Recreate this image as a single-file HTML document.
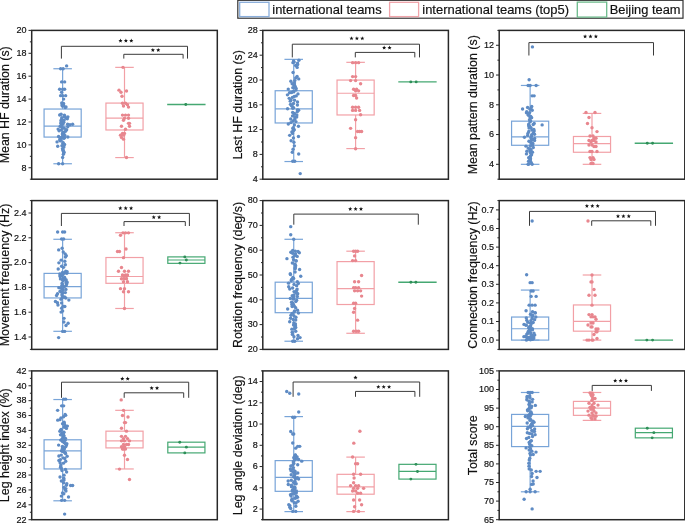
<!DOCTYPE html>
<html><head><meta charset="utf-8"><style>
html,body{margin:0;padding:0;background:#fff;width:685px;height:523px;overflow:hidden}
svg{display:block;will-change:transform}
text{font-family:"Liberation Sans",sans-serif;fill:#111;stroke:#111;stroke-width:0.18px}
.tk{font-size:9px;text-anchor:end}
.ttl{font-size:12.4px;text-anchor:middle}
.st{font-size:10px;text-anchor:middle;font-weight:bold}
.lg{font-size:12.85px}
</style></head><body>
<svg width="685" height="523" viewBox="0 0 685 523">
<line x1="29.90" y1="179.20" x2="31.70" y2="179.20" stroke="#282828" stroke-width="1.0"/>
<line x1="28.50" y1="167.75" x2="31.70" y2="167.75" stroke="#282828" stroke-width="1.0"/>
<line x1="29.90" y1="156.31" x2="31.70" y2="156.31" stroke="#282828" stroke-width="1.0"/>
<line x1="28.50" y1="144.86" x2="31.70" y2="144.86" stroke="#282828" stroke-width="1.0"/>
<line x1="29.90" y1="133.42" x2="31.70" y2="133.42" stroke="#282828" stroke-width="1.0"/>
<line x1="28.50" y1="121.97" x2="31.70" y2="121.97" stroke="#282828" stroke-width="1.0"/>
<line x1="29.90" y1="110.52" x2="31.70" y2="110.52" stroke="#282828" stroke-width="1.0"/>
<line x1="28.50" y1="99.08" x2="31.70" y2="99.08" stroke="#282828" stroke-width="1.0"/>
<line x1="29.90" y1="87.63" x2="31.70" y2="87.63" stroke="#282828" stroke-width="1.0"/>
<line x1="28.50" y1="76.18" x2="31.70" y2="76.18" stroke="#282828" stroke-width="1.0"/>
<line x1="29.90" y1="64.74" x2="31.70" y2="64.74" stroke="#282828" stroke-width="1.0"/>
<line x1="28.50" y1="53.29" x2="31.70" y2="53.29" stroke="#282828" stroke-width="1.0"/>
<line x1="29.90" y1="41.85" x2="31.70" y2="41.85" stroke="#282828" stroke-width="1.0"/>
<line x1="28.50" y1="30.40" x2="31.70" y2="30.40" stroke="#282828" stroke-width="1.0"/>
<text x="26.60" y="170.55" class="tk">8</text>
<text x="26.60" y="147.66" class="tk">10</text>
<text x="26.60" y="124.77" class="tk">12</text>
<text x="26.60" y="101.88" class="tk">14</text>
<text x="26.60" y="78.98" class="tk">16</text>
<text x="26.60" y="56.09" class="tk">18</text>
<text x="26.60" y="33.20" class="tk">20</text>
<text class="ttl" transform="translate(9.30,104.80) rotate(-90)" x="0" y="0">Mean HF duration (s)</text>
<line x1="62.63" y1="68.74" x2="62.63" y2="109.04" stroke="#78a4d8" stroke-width="1.2"/>
<line x1="62.63" y1="137.08" x2="62.63" y2="163.75" stroke="#78a4d8" stroke-width="1.2"/>
<line x1="53.35" y1="68.74" x2="71.91" y2="68.74" stroke="#78a4d8" stroke-width="1.2"/>
<line x1="53.35" y1="163.75" x2="71.91" y2="163.75" stroke="#78a4d8" stroke-width="1.2"/>
<rect x="44.07" y="109.04" width="37.12" height="28.04" fill="none" stroke="#78a4d8" stroke-width="1.2"/>
<line x1="44.07" y1="126.09" x2="81.19" y2="126.09" stroke="#78a4d8" stroke-width="1.2"/>
<circle cx="65.13" cy="107.45" r="1.7" fill="#5e8bc4"/>
<circle cx="66.00" cy="106.97" r="1.7" fill="#5e8bc4"/>
<circle cx="62.34" cy="106.03" r="1.7" fill="#5e8bc4"/>
<circle cx="63.60" cy="105.40" r="1.7" fill="#5e8bc4"/>
<circle cx="62.03" cy="105.06" r="1.7" fill="#5e8bc4"/>
<circle cx="63.33" cy="104.38" r="1.7" fill="#5e8bc4"/>
<circle cx="63.55" cy="103.53" r="1.7" fill="#5e8bc4"/>
<circle cx="61.75" cy="103.01" r="1.7" fill="#5e8bc4"/>
<circle cx="66.16" cy="118.18" r="1.7" fill="#5e8bc4"/>
<circle cx="61.83" cy="117.74" r="1.7" fill="#5e8bc4"/>
<circle cx="67.86" cy="116.83" r="1.7" fill="#5e8bc4"/>
<circle cx="64.42" cy="116.65" r="1.7" fill="#5e8bc4"/>
<circle cx="64.58" cy="116.16" r="1.7" fill="#5e8bc4"/>
<circle cx="64.44" cy="115.21" r="1.7" fill="#5e8bc4"/>
<circle cx="59.70" cy="115.00" r="1.7" fill="#5e8bc4"/>
<circle cx="61.11" cy="114.32" r="1.7" fill="#5e8bc4"/>
<circle cx="63.77" cy="122.18" r="1.7" fill="#5e8bc4"/>
<circle cx="63.28" cy="121.74" r="1.7" fill="#5e8bc4"/>
<circle cx="60.91" cy="120.75" r="1.7" fill="#5e8bc4"/>
<circle cx="63.93" cy="120.15" r="1.7" fill="#5e8bc4"/>
<circle cx="61.51" cy="119.57" r="1.7" fill="#5e8bc4"/>
<circle cx="67.33" cy="118.74" r="1.7" fill="#5e8bc4"/>
<circle cx="60.10" cy="126.41" r="1.7" fill="#5e8bc4"/>
<circle cx="61.50" cy="125.47" r="1.7" fill="#5e8bc4"/>
<circle cx="61.21" cy="124.99" r="1.7" fill="#5e8bc4"/>
<circle cx="70.01" cy="124.76" r="1.7" fill="#5e8bc4"/>
<circle cx="63.00" cy="124.02" r="1.7" fill="#5e8bc4"/>
<circle cx="61.44" cy="123.41" r="1.7" fill="#5e8bc4"/>
<circle cx="60.76" cy="123.09" r="1.7" fill="#5e8bc4"/>
<circle cx="59.08" cy="130.80" r="1.7" fill="#5e8bc4"/>
<circle cx="61.37" cy="130.05" r="1.7" fill="#5e8bc4"/>
<circle cx="66.62" cy="129.64" r="1.7" fill="#5e8bc4"/>
<circle cx="58.14" cy="129.08" r="1.7" fill="#5e8bc4"/>
<circle cx="64.29" cy="128.30" r="1.7" fill="#5e8bc4"/>
<circle cx="62.46" cy="127.99" r="1.7" fill="#5e8bc4"/>
<circle cx="62.14" cy="127.29" r="1.7" fill="#5e8bc4"/>
<circle cx="67.76" cy="126.75" r="1.7" fill="#5e8bc4"/>
<circle cx="62.72" cy="134.97" r="1.7" fill="#5e8bc4"/>
<circle cx="62.66" cy="134.34" r="1.7" fill="#5e8bc4"/>
<circle cx="62.45" cy="133.72" r="1.7" fill="#5e8bc4"/>
<circle cx="63.61" cy="133.32" r="1.7" fill="#5e8bc4"/>
<circle cx="63.54" cy="132.40" r="1.7" fill="#5e8bc4"/>
<circle cx="62.97" cy="132.20" r="1.7" fill="#5e8bc4"/>
<circle cx="65.52" cy="131.20" r="1.7" fill="#5e8bc4"/>
<circle cx="59.82" cy="139.10" r="1.7" fill="#5e8bc4"/>
<circle cx="63.96" cy="138.20" r="1.7" fill="#5e8bc4"/>
<circle cx="64.31" cy="137.73" r="1.7" fill="#5e8bc4"/>
<circle cx="61.35" cy="137.43" r="1.7" fill="#5e8bc4"/>
<circle cx="67.82" cy="136.96" r="1.7" fill="#5e8bc4"/>
<circle cx="58.58" cy="136.56" r="1.7" fill="#5e8bc4"/>
<circle cx="63.15" cy="136.05" r="1.7" fill="#5e8bc4"/>
<circle cx="64.82" cy="135.39" r="1.7" fill="#5e8bc4"/>
<circle cx="62.91" cy="143.27" r="1.7" fill="#5e8bc4"/>
<circle cx="63.17" cy="142.63" r="1.7" fill="#5e8bc4"/>
<circle cx="57.05" cy="141.91" r="1.7" fill="#5e8bc4"/>
<circle cx="60.33" cy="140.90" r="1.7" fill="#5e8bc4"/>
<circle cx="60.05" cy="140.27" r="1.7" fill="#5e8bc4"/>
<circle cx="60.30" cy="139.86" r="1.7" fill="#5e8bc4"/>
<circle cx="63.92" cy="147.00" r="1.7" fill="#5e8bc4"/>
<circle cx="57.73" cy="146.28" r="1.7" fill="#5e8bc4"/>
<circle cx="61.95" cy="145.81" r="1.7" fill="#5e8bc4"/>
<circle cx="63.65" cy="144.81" r="1.7" fill="#5e8bc4"/>
<circle cx="64.56" cy="144.47" r="1.7" fill="#5e8bc4"/>
<circle cx="63.66" cy="151.57" r="1.7" fill="#5e8bc4"/>
<circle cx="62.99" cy="150.39" r="1.7" fill="#5e8bc4"/>
<circle cx="62.95" cy="149.57" r="1.7" fill="#5e8bc4"/>
<circle cx="62.55" cy="148.62" r="1.7" fill="#5e8bc4"/>
<circle cx="63.38" cy="154.31" r="1.7" fill="#5e8bc4"/>
<circle cx="64.11" cy="152.61" r="1.7" fill="#5e8bc4"/>
<circle cx="66.63" cy="65.88" r="1.7" fill="#5e8bc4"/>
<circle cx="60.63" cy="68.74" r="1.7" fill="#5e8bc4"/>
<circle cx="63.13" cy="68.74" r="1.7" fill="#5e8bc4"/>
<circle cx="61.63" cy="81.91" r="1.7" fill="#5e8bc4"/>
<circle cx="64.63" cy="81.91" r="1.7" fill="#5e8bc4"/>
<circle cx="59.63" cy="89.23" r="1.7" fill="#5e8bc4"/>
<circle cx="62.63" cy="89.23" r="1.7" fill="#5e8bc4"/>
<circle cx="64.63" cy="89.23" r="1.7" fill="#5e8bc4"/>
<circle cx="61.63" cy="92.21" r="1.7" fill="#5e8bc4"/>
<circle cx="60.63" cy="95.64" r="1.7" fill="#5e8bc4"/>
<circle cx="62.63" cy="95.64" r="1.7" fill="#5e8bc4"/>
<circle cx="65.63" cy="95.64" r="1.7" fill="#5e8bc4"/>
<circle cx="63.63" cy="99.08" r="1.7" fill="#5e8bc4"/>
<circle cx="67.63" cy="124.26" r="1.7" fill="#5e8bc4"/>
<circle cx="72.63" cy="124.26" r="1.7" fill="#5e8bc4"/>
<circle cx="62.63" cy="157.45" r="1.7" fill="#5e8bc4"/>
<circle cx="58.63" cy="163.75" r="1.7" fill="#5e8bc4"/>
<circle cx="62.63" cy="163.75" r="1.7" fill="#5e8bc4"/>
<line x1="124.50" y1="67.37" x2="124.50" y2="103.08" stroke="#f2a0a6" stroke-width="1.2"/>
<line x1="124.50" y1="129.98" x2="124.50" y2="157.57" stroke="#f2a0a6" stroke-width="1.2"/>
<line x1="115.22" y1="67.37" x2="133.78" y2="67.37" stroke="#f2a0a6" stroke-width="1.2"/>
<line x1="115.22" y1="157.57" x2="133.78" y2="157.57" stroke="#f2a0a6" stroke-width="1.2"/>
<rect x="105.94" y="103.08" width="37.12" height="26.90" fill="none" stroke="#f2a0a6" stroke-width="1.2"/>
<line x1="105.94" y1="118.08" x2="143.06" y2="118.08" stroke="#f2a0a6" stroke-width="1.2"/>
<circle cx="123.00" cy="67.37" r="1.7" fill="#e8868e"/>
<circle cx="119.00" cy="90.15" r="1.7" fill="#e8868e"/>
<circle cx="121.00" cy="92.21" r="1.7" fill="#e8868e"/>
<circle cx="126.50" cy="91.06" r="1.7" fill="#e8868e"/>
<circle cx="122.00" cy="96.22" r="1.7" fill="#e8868e"/>
<circle cx="122.50" cy="103.20" r="1.7" fill="#e8868e"/>
<circle cx="125.50" cy="103.20" r="1.7" fill="#e8868e"/>
<circle cx="127.50" cy="104.80" r="1.7" fill="#e8868e"/>
<circle cx="123.50" cy="105.94" r="1.7" fill="#e8868e"/>
<circle cx="128.50" cy="107.09" r="1.7" fill="#e8868e"/>
<circle cx="122.50" cy="115.10" r="1.7" fill="#e8868e"/>
<circle cx="125.50" cy="115.10" r="1.7" fill="#e8868e"/>
<circle cx="128.50" cy="115.10" r="1.7" fill="#e8868e"/>
<circle cx="124.50" cy="118.31" r="1.7" fill="#e8868e"/>
<circle cx="128.50" cy="118.31" r="1.7" fill="#e8868e"/>
<circle cx="123.50" cy="120.25" r="1.7" fill="#e8868e"/>
<circle cx="128.50" cy="123.34" r="1.7" fill="#e8868e"/>
<circle cx="129.50" cy="123.34" r="1.7" fill="#e8868e"/>
<circle cx="121.50" cy="126.32" r="1.7" fill="#e8868e"/>
<circle cx="129.50" cy="126.32" r="1.7" fill="#e8868e"/>
<circle cx="125.50" cy="129.29" r="1.7" fill="#e8868e"/>
<circle cx="122.50" cy="133.42" r="1.7" fill="#e8868e"/>
<circle cx="124.50" cy="133.42" r="1.7" fill="#e8868e"/>
<circle cx="120.50" cy="135.13" r="1.7" fill="#e8868e"/>
<circle cx="123.50" cy="135.13" r="1.7" fill="#e8868e"/>
<circle cx="121.50" cy="137.42" r="1.7" fill="#e8868e"/>
<circle cx="123.50" cy="139.14" r="1.7" fill="#e8868e"/>
<circle cx="126.50" cy="157.45" r="1.7" fill="#e8868e"/>
<line x1="167.19" y1="104.57" x2="205.55" y2="104.57" stroke="#45a872" stroke-width="1.4"/>
<circle cx="185.77" cy="104.57" r="1.45" fill="#2e8f58"/>
<polyline points="61.40,58.60 61.40,46.30 187.50,46.30 187.50,58.60" fill="none" stroke="#3a3a3a" stroke-width="1"/>
<polygon points="120.50,38.60 121.06,40.03 122.59,40.12 121.40,41.09 121.79,42.58 120.50,41.75 119.21,42.58 119.60,41.09 118.41,40.12 119.94,40.03" fill="#111"/>
<polygon points="125.90,38.60 126.46,40.03 127.99,40.12 126.80,41.09 127.19,42.58 125.90,41.75 124.61,42.58 125.00,41.09 123.81,40.12 125.34,40.03" fill="#111"/>
<polygon points="131.30,38.60 131.86,40.03 133.39,40.12 132.20,41.09 132.59,42.58 131.30,41.75 130.01,42.58 130.40,41.09 129.21,40.12 130.74,40.03" fill="#111"/>
<polyline points="123.80,58.60 123.80,54.30 183.10,54.30 183.10,58.60" fill="none" stroke="#3a3a3a" stroke-width="1"/>
<polygon points="152.85,47.90 153.41,49.33 154.94,49.42 153.75,50.39 154.14,51.88 152.85,51.05 151.56,51.88 151.95,50.39 150.76,49.42 152.29,49.33" fill="#111"/>
<polygon points="158.25,47.90 158.81,49.33 160.34,49.42 159.15,50.39 159.54,51.88 158.25,51.05 156.96,51.88 157.35,50.39 156.16,49.42 157.69,49.33" fill="#111"/>
<rect x="31.70" y="30.40" width="185.60" height="148.80" fill="none" stroke="#282828" stroke-width="1.5"/>
<line x1="259.60" y1="179.20" x2="262.80" y2="179.20" stroke="#282828" stroke-width="1.0"/>
<line x1="261.00" y1="166.80" x2="262.80" y2="166.80" stroke="#282828" stroke-width="1.0"/>
<line x1="259.60" y1="154.40" x2="262.80" y2="154.40" stroke="#282828" stroke-width="1.0"/>
<line x1="261.00" y1="142.00" x2="262.80" y2="142.00" stroke="#282828" stroke-width="1.0"/>
<line x1="259.60" y1="129.60" x2="262.80" y2="129.60" stroke="#282828" stroke-width="1.0"/>
<line x1="261.00" y1="117.20" x2="262.80" y2="117.20" stroke="#282828" stroke-width="1.0"/>
<line x1="259.60" y1="104.80" x2="262.80" y2="104.80" stroke="#282828" stroke-width="1.0"/>
<line x1="261.00" y1="92.40" x2="262.80" y2="92.40" stroke="#282828" stroke-width="1.0"/>
<line x1="259.60" y1="80.00" x2="262.80" y2="80.00" stroke="#282828" stroke-width="1.0"/>
<line x1="261.00" y1="67.60" x2="262.80" y2="67.60" stroke="#282828" stroke-width="1.0"/>
<line x1="259.60" y1="55.20" x2="262.80" y2="55.20" stroke="#282828" stroke-width="1.0"/>
<line x1="261.00" y1="42.80" x2="262.80" y2="42.80" stroke="#282828" stroke-width="1.0"/>
<line x1="259.60" y1="30.40" x2="262.80" y2="30.40" stroke="#282828" stroke-width="1.0"/>
<text x="257.70" y="182.00" class="tk">4</text>
<text x="257.70" y="157.20" class="tk">8</text>
<text x="257.70" y="132.40" class="tk">12</text>
<text x="257.70" y="107.60" class="tk">16</text>
<text x="257.70" y="82.80" class="tk">20</text>
<text x="257.70" y="58.00" class="tk">24</text>
<text x="257.70" y="33.20" class="tk">28</text>
<text class="ttl" transform="translate(242.20,104.80) rotate(-90)" x="0" y="0">Last HF duration (s)</text>
<line x1="293.73" y1="59.35" x2="293.73" y2="90.73" stroke="#78a4d8" stroke-width="1.2"/>
<line x1="293.73" y1="122.97" x2="293.73" y2="161.53" stroke="#78a4d8" stroke-width="1.2"/>
<line x1="284.45" y1="59.35" x2="303.01" y2="59.35" stroke="#78a4d8" stroke-width="1.2"/>
<line x1="284.45" y1="161.53" x2="303.01" y2="161.53" stroke="#78a4d8" stroke-width="1.2"/>
<rect x="275.17" y="90.73" width="37.12" height="32.24" fill="none" stroke="#78a4d8" stroke-width="1.2"/>
<line x1="275.17" y1="108.89" x2="312.29" y2="108.89" stroke="#78a4d8" stroke-width="1.2"/>
<circle cx="295.63" cy="65.43" r="1.7" fill="#5e8bc4"/>
<circle cx="297.66" cy="64.53" r="1.7" fill="#5e8bc4"/>
<circle cx="297.56" cy="63.09" r="1.7" fill="#5e8bc4"/>
<circle cx="292.94" cy="62.67" r="1.7" fill="#5e8bc4"/>
<circle cx="294.15" cy="62.11" r="1.7" fill="#5e8bc4"/>
<circle cx="293.58" cy="61.01" r="1.7" fill="#5e8bc4"/>
<circle cx="298.90" cy="60.28" r="1.7" fill="#5e8bc4"/>
<circle cx="297.07" cy="76.51" r="1.7" fill="#5e8bc4"/>
<circle cx="293.07" cy="72.44" r="1.7" fill="#5e8bc4"/>
<circle cx="297.17" cy="67.39" r="1.7" fill="#5e8bc4"/>
<circle cx="294.57" cy="85.18" r="1.7" fill="#5e8bc4"/>
<circle cx="293.36" cy="84.25" r="1.7" fill="#5e8bc4"/>
<circle cx="292.13" cy="83.72" r="1.7" fill="#5e8bc4"/>
<circle cx="294.47" cy="82.89" r="1.7" fill="#5e8bc4"/>
<circle cx="290.86" cy="81.20" r="1.7" fill="#5e8bc4"/>
<circle cx="294.83" cy="80.62" r="1.7" fill="#5e8bc4"/>
<circle cx="298.72" cy="78.89" r="1.7" fill="#5e8bc4"/>
<circle cx="295.69" cy="77.98" r="1.7" fill="#5e8bc4"/>
<circle cx="289.53" cy="92.80" r="1.7" fill="#5e8bc4"/>
<circle cx="291.61" cy="92.46" r="1.7" fill="#5e8bc4"/>
<circle cx="293.76" cy="91.88" r="1.7" fill="#5e8bc4"/>
<circle cx="293.66" cy="91.17" r="1.7" fill="#5e8bc4"/>
<circle cx="296.01" cy="89.98" r="1.7" fill="#5e8bc4"/>
<circle cx="288.25" cy="89.08" r="1.7" fill="#5e8bc4"/>
<circle cx="296.02" cy="88.35" r="1.7" fill="#5e8bc4"/>
<circle cx="292.82" cy="87.66" r="1.7" fill="#5e8bc4"/>
<circle cx="295.41" cy="87.46" r="1.7" fill="#5e8bc4"/>
<circle cx="295.06" cy="86.77" r="1.7" fill="#5e8bc4"/>
<circle cx="297.52" cy="102.07" r="1.7" fill="#5e8bc4"/>
<circle cx="290.28" cy="101.17" r="1.7" fill="#5e8bc4"/>
<circle cx="294.52" cy="100.25" r="1.7" fill="#5e8bc4"/>
<circle cx="291.00" cy="99.98" r="1.7" fill="#5e8bc4"/>
<circle cx="289.21" cy="98.34" r="1.7" fill="#5e8bc4"/>
<circle cx="292.42" cy="97.41" r="1.7" fill="#5e8bc4"/>
<circle cx="294.26" cy="96.42" r="1.7" fill="#5e8bc4"/>
<circle cx="296.21" cy="95.89" r="1.7" fill="#5e8bc4"/>
<circle cx="287.44" cy="94.87" r="1.7" fill="#5e8bc4"/>
<circle cx="297.98" cy="93.91" r="1.7" fill="#5e8bc4"/>
<circle cx="292.66" cy="112.41" r="1.7" fill="#5e8bc4"/>
<circle cx="297.32" cy="111.65" r="1.7" fill="#5e8bc4"/>
<circle cx="298.62" cy="110.30" r="1.7" fill="#5e8bc4"/>
<circle cx="297.40" cy="110.03" r="1.7" fill="#5e8bc4"/>
<circle cx="287.57" cy="108.82" r="1.7" fill="#5e8bc4"/>
<circle cx="292.72" cy="108.27" r="1.7" fill="#5e8bc4"/>
<circle cx="293.62" cy="107.73" r="1.7" fill="#5e8bc4"/>
<circle cx="292.16" cy="106.17" r="1.7" fill="#5e8bc4"/>
<circle cx="291.46" cy="105.40" r="1.7" fill="#5e8bc4"/>
<circle cx="297.40" cy="105.00" r="1.7" fill="#5e8bc4"/>
<circle cx="290.52" cy="104.37" r="1.7" fill="#5e8bc4"/>
<circle cx="293.52" cy="103.54" r="1.7" fill="#5e8bc4"/>
<circle cx="295.89" cy="121.60" r="1.7" fill="#5e8bc4"/>
<circle cx="292.83" cy="120.95" r="1.7" fill="#5e8bc4"/>
<circle cx="294.70" cy="119.36" r="1.7" fill="#5e8bc4"/>
<circle cx="290.71" cy="118.94" r="1.7" fill="#5e8bc4"/>
<circle cx="294.93" cy="117.45" r="1.7" fill="#5e8bc4"/>
<circle cx="296.70" cy="116.95" r="1.7" fill="#5e8bc4"/>
<circle cx="292.52" cy="115.88" r="1.7" fill="#5e8bc4"/>
<circle cx="296.81" cy="114.93" r="1.7" fill="#5e8bc4"/>
<circle cx="294.36" cy="114.30" r="1.7" fill="#5e8bc4"/>
<circle cx="294.52" cy="113.51" r="1.7" fill="#5e8bc4"/>
<circle cx="292.51" cy="133.38" r="1.7" fill="#5e8bc4"/>
<circle cx="291.87" cy="131.91" r="1.7" fill="#5e8bc4"/>
<circle cx="293.23" cy="130.97" r="1.7" fill="#5e8bc4"/>
<circle cx="294.30" cy="129.75" r="1.7" fill="#5e8bc4"/>
<circle cx="292.83" cy="128.57" r="1.7" fill="#5e8bc4"/>
<circle cx="293.28" cy="127.76" r="1.7" fill="#5e8bc4"/>
<circle cx="298.44" cy="126.27" r="1.7" fill="#5e8bc4"/>
<circle cx="294.39" cy="125.03" r="1.7" fill="#5e8bc4"/>
<circle cx="288.31" cy="123.99" r="1.7" fill="#5e8bc4"/>
<circle cx="290.92" cy="122.62" r="1.7" fill="#5e8bc4"/>
<circle cx="293.92" cy="142.22" r="1.7" fill="#5e8bc4"/>
<circle cx="291.13" cy="140.76" r="1.7" fill="#5e8bc4"/>
<circle cx="293.42" cy="137.90" r="1.7" fill="#5e8bc4"/>
<circle cx="298.47" cy="136.44" r="1.7" fill="#5e8bc4"/>
<circle cx="289.69" cy="135.36" r="1.7" fill="#5e8bc4"/>
<circle cx="298.70" cy="153.95" r="1.7" fill="#5e8bc4"/>
<circle cx="292.30" cy="152.20" r="1.7" fill="#5e8bc4"/>
<circle cx="293.09" cy="149.23" r="1.7" fill="#5e8bc4"/>
<circle cx="294.39" cy="145.85" r="1.7" fill="#5e8bc4"/>
<circle cx="292.73" cy="161.22" r="1.7" fill="#5e8bc4"/>
<circle cx="294.73" cy="161.22" r="1.7" fill="#5e8bc4"/>
<circle cx="300.23" cy="173.62" r="1.7" fill="#5e8bc4"/>
<line x1="355.60" y1="62.33" x2="355.60" y2="80.06" stroke="#f2a0a6" stroke-width="1.2"/>
<line x1="355.60" y1="114.97" x2="355.60" y2="148.57" stroke="#f2a0a6" stroke-width="1.2"/>
<line x1="346.32" y1="62.33" x2="364.88" y2="62.33" stroke="#f2a0a6" stroke-width="1.2"/>
<line x1="346.32" y1="148.57" x2="364.88" y2="148.57" stroke="#f2a0a6" stroke-width="1.2"/>
<rect x="337.04" y="80.06" width="37.12" height="34.91" fill="none" stroke="#f2a0a6" stroke-width="1.2"/>
<line x1="337.04" y1="93.27" x2="374.16" y2="93.27" stroke="#f2a0a6" stroke-width="1.2"/>
<circle cx="352.60" cy="62.64" r="1.7" fill="#e8868e"/>
<circle cx="355.60" cy="62.64" r="1.7" fill="#e8868e"/>
<circle cx="358.60" cy="62.64" r="1.7" fill="#e8868e"/>
<circle cx="352.60" cy="76.59" r="1.7" fill="#e8868e"/>
<circle cx="355.60" cy="76.59" r="1.7" fill="#e8868e"/>
<circle cx="350.60" cy="80.62" r="1.7" fill="#e8868e"/>
<circle cx="355.60" cy="80.62" r="1.7" fill="#e8868e"/>
<circle cx="360.60" cy="83.72" r="1.7" fill="#e8868e"/>
<circle cx="353.60" cy="89.30" r="1.7" fill="#e8868e"/>
<circle cx="356.60" cy="89.30" r="1.7" fill="#e8868e"/>
<circle cx="355.60" cy="90.85" r="1.7" fill="#e8868e"/>
<circle cx="358.60" cy="90.85" r="1.7" fill="#e8868e"/>
<circle cx="353.60" cy="95.50" r="1.7" fill="#e8868e"/>
<circle cx="355.60" cy="95.50" r="1.7" fill="#e8868e"/>
<circle cx="356.60" cy="97.98" r="1.7" fill="#e8868e"/>
<circle cx="352.60" cy="107.28" r="1.7" fill="#e8868e"/>
<circle cx="355.60" cy="107.28" r="1.7" fill="#e8868e"/>
<circle cx="358.60" cy="107.28" r="1.7" fill="#e8868e"/>
<circle cx="352.60" cy="110.38" r="1.7" fill="#e8868e"/>
<circle cx="355.60" cy="110.38" r="1.7" fill="#e8868e"/>
<circle cx="359.60" cy="110.38" r="1.7" fill="#e8868e"/>
<circle cx="360.60" cy="114.72" r="1.7" fill="#e8868e"/>
<circle cx="355.60" cy="119.68" r="1.7" fill="#e8868e"/>
<circle cx="350.60" cy="128.36" r="1.7" fill="#e8868e"/>
<circle cx="357.60" cy="131.46" r="1.7" fill="#e8868e"/>
<circle cx="359.60" cy="131.46" r="1.7" fill="#e8868e"/>
<circle cx="361.60" cy="131.46" r="1.7" fill="#e8868e"/>
<circle cx="355.60" cy="137.66" r="1.7" fill="#e8868e"/>
<circle cx="355.60" cy="148.82" r="1.7" fill="#e8868e"/>
<line x1="398.29" y1="81.92" x2="436.65" y2="81.92" stroke="#45a872" stroke-width="1.4"/>
<circle cx="410.77" cy="81.92" r="1.45" fill="#2e8f58"/>
<circle cx="416.17" cy="81.92" r="1.45" fill="#2e8f58"/>
<polyline points="292.30,57.40 292.30,44.20 419.50,44.20 419.50,57.40" fill="none" stroke="#3a3a3a" stroke-width="1"/>
<polygon points="351.50,36.20 352.06,37.63 353.59,37.72 352.40,38.69 352.79,40.18 351.50,39.35 350.21,40.18 350.60,38.69 349.41,37.72 350.94,37.63" fill="#111"/>
<polygon points="356.90,36.20 357.46,37.63 358.99,37.72 357.80,38.69 358.19,40.18 356.90,39.35 355.61,40.18 356.00,38.69 354.81,37.72 356.34,37.63" fill="#111"/>
<polygon points="362.30,36.20 362.86,37.63 364.39,37.72 363.20,38.69 363.59,40.18 362.30,39.35 361.01,40.18 361.40,38.69 360.21,37.72 361.74,37.63" fill="#111"/>
<polyline points="355.30,57.40 355.30,52.40 414.80,52.40 414.80,57.40" fill="none" stroke="#3a3a3a" stroke-width="1"/>
<polygon points="384.15,45.55 384.71,46.98 386.24,47.07 385.05,48.04 385.44,49.53 384.15,48.70 382.86,49.53 383.25,48.04 382.06,47.07 383.59,46.98" fill="#111"/>
<polygon points="389.55,45.55 390.11,46.98 391.64,47.07 390.45,48.04 390.84,49.53 389.55,48.70 388.26,49.53 388.65,48.04 387.46,47.07 388.99,46.98" fill="#111"/>
<rect x="262.80" y="30.40" width="185.60" height="148.80" fill="none" stroke="#282828" stroke-width="1.5"/>
<line x1="497.40" y1="179.20" x2="499.20" y2="179.20" stroke="#282828" stroke-width="1.0"/>
<line x1="496.00" y1="164.32" x2="499.20" y2="164.32" stroke="#282828" stroke-width="1.0"/>
<line x1="497.40" y1="149.44" x2="499.20" y2="149.44" stroke="#282828" stroke-width="1.0"/>
<line x1="496.00" y1="134.56" x2="499.20" y2="134.56" stroke="#282828" stroke-width="1.0"/>
<line x1="497.40" y1="119.68" x2="499.20" y2="119.68" stroke="#282828" stroke-width="1.0"/>
<line x1="496.00" y1="104.80" x2="499.20" y2="104.80" stroke="#282828" stroke-width="1.0"/>
<line x1="497.40" y1="89.92" x2="499.20" y2="89.92" stroke="#282828" stroke-width="1.0"/>
<line x1="496.00" y1="75.04" x2="499.20" y2="75.04" stroke="#282828" stroke-width="1.0"/>
<line x1="497.40" y1="60.16" x2="499.20" y2="60.16" stroke="#282828" stroke-width="1.0"/>
<line x1="496.00" y1="45.28" x2="499.20" y2="45.28" stroke="#282828" stroke-width="1.0"/>
<line x1="497.40" y1="30.40" x2="499.20" y2="30.40" stroke="#282828" stroke-width="1.0"/>
<text x="494.10" y="167.12" class="tk">4</text>
<text x="494.10" y="137.36" class="tk">6</text>
<text x="494.10" y="107.60" class="tk">8</text>
<text x="494.10" y="77.84" class="tk">10</text>
<text x="494.10" y="48.08" class="tk">12</text>
<text class="ttl" transform="translate(476.50,104.80) rotate(-90)" x="0" y="0">Mean pattern duration (s)</text>
<line x1="530.13" y1="85.46" x2="530.13" y2="121.17" stroke="#78a4d8" stroke-width="1.2"/>
<line x1="530.13" y1="145.27" x2="530.13" y2="164.32" stroke="#78a4d8" stroke-width="1.2"/>
<line x1="520.85" y1="85.46" x2="539.41" y2="85.46" stroke="#78a4d8" stroke-width="1.2"/>
<line x1="520.85" y1="164.32" x2="539.41" y2="164.32" stroke="#78a4d8" stroke-width="1.2"/>
<rect x="511.57" y="121.17" width="37.12" height="24.11" fill="none" stroke="#78a4d8" stroke-width="1.2"/>
<line x1="511.57" y1="136.94" x2="548.69" y2="136.94" stroke="#78a4d8" stroke-width="1.2"/>
<circle cx="528.23" cy="114.41" r="1.7" fill="#5e8bc4"/>
<circle cx="526.45" cy="112.83" r="1.7" fill="#5e8bc4"/>
<circle cx="529.63" cy="112.61" r="1.7" fill="#5e8bc4"/>
<circle cx="526.70" cy="111.76" r="1.7" fill="#5e8bc4"/>
<circle cx="532.23" cy="110.26" r="1.7" fill="#5e8bc4"/>
<circle cx="530.06" cy="109.33" r="1.7" fill="#5e8bc4"/>
<circle cx="522.58" cy="108.95" r="1.7" fill="#5e8bc4"/>
<circle cx="531.06" cy="107.71" r="1.7" fill="#5e8bc4"/>
<circle cx="527.59" cy="107.43" r="1.7" fill="#5e8bc4"/>
<circle cx="531.74" cy="106.41" r="1.7" fill="#5e8bc4"/>
<circle cx="528.70" cy="124.25" r="1.7" fill="#5e8bc4"/>
<circle cx="534.21" cy="123.43" r="1.7" fill="#5e8bc4"/>
<circle cx="529.97" cy="121.90" r="1.7" fill="#5e8bc4"/>
<circle cx="530.61" cy="121.12" r="1.7" fill="#5e8bc4"/>
<circle cx="529.49" cy="119.83" r="1.7" fill="#5e8bc4"/>
<circle cx="530.36" cy="118.47" r="1.7" fill="#5e8bc4"/>
<circle cx="531.64" cy="117.67" r="1.7" fill="#5e8bc4"/>
<circle cx="530.22" cy="117.20" r="1.7" fill="#5e8bc4"/>
<circle cx="530.81" cy="116.43" r="1.7" fill="#5e8bc4"/>
<circle cx="528.40" cy="115.34" r="1.7" fill="#5e8bc4"/>
<circle cx="534.51" cy="134.20" r="1.7" fill="#5e8bc4"/>
<circle cx="527.89" cy="133.50" r="1.7" fill="#5e8bc4"/>
<circle cx="533.39" cy="132.75" r="1.7" fill="#5e8bc4"/>
<circle cx="528.79" cy="131.44" r="1.7" fill="#5e8bc4"/>
<circle cx="534.15" cy="131.11" r="1.7" fill="#5e8bc4"/>
<circle cx="531.84" cy="129.99" r="1.7" fill="#5e8bc4"/>
<circle cx="533.85" cy="129.44" r="1.7" fill="#5e8bc4"/>
<circle cx="529.04" cy="127.98" r="1.7" fill="#5e8bc4"/>
<circle cx="531.03" cy="127.74" r="1.7" fill="#5e8bc4"/>
<circle cx="529.68" cy="126.24" r="1.7" fill="#5e8bc4"/>
<circle cx="528.68" cy="125.75" r="1.7" fill="#5e8bc4"/>
<circle cx="533.23" cy="124.50" r="1.7" fill="#5e8bc4"/>
<circle cx="532.62" cy="144.05" r="1.7" fill="#5e8bc4"/>
<circle cx="532.74" cy="143.38" r="1.7" fill="#5e8bc4"/>
<circle cx="530.87" cy="142.77" r="1.7" fill="#5e8bc4"/>
<circle cx="531.14" cy="142.02" r="1.7" fill="#5e8bc4"/>
<circle cx="528.95" cy="141.25" r="1.7" fill="#5e8bc4"/>
<circle cx="534.56" cy="140.58" r="1.7" fill="#5e8bc4"/>
<circle cx="531.48" cy="139.74" r="1.7" fill="#5e8bc4"/>
<circle cx="532.59" cy="139.38" r="1.7" fill="#5e8bc4"/>
<circle cx="534.64" cy="138.53" r="1.7" fill="#5e8bc4"/>
<circle cx="530.84" cy="137.63" r="1.7" fill="#5e8bc4"/>
<circle cx="524.44" cy="137.19" r="1.7" fill="#5e8bc4"/>
<circle cx="531.39" cy="136.56" r="1.7" fill="#5e8bc4"/>
<circle cx="527.67" cy="135.38" r="1.7" fill="#5e8bc4"/>
<circle cx="531.69" cy="134.67" r="1.7" fill="#5e8bc4"/>
<circle cx="526.47" cy="153.88" r="1.7" fill="#5e8bc4"/>
<circle cx="530.27" cy="152.55" r="1.7" fill="#5e8bc4"/>
<circle cx="532.45" cy="152.26" r="1.7" fill="#5e8bc4"/>
<circle cx="526.89" cy="151.18" r="1.7" fill="#5e8bc4"/>
<circle cx="529.93" cy="150.54" r="1.7" fill="#5e8bc4"/>
<circle cx="531.14" cy="149.94" r="1.7" fill="#5e8bc4"/>
<circle cx="530.32" cy="149.16" r="1.7" fill="#5e8bc4"/>
<circle cx="528.44" cy="148.25" r="1.7" fill="#5e8bc4"/>
<circle cx="533.29" cy="147.49" r="1.7" fill="#5e8bc4"/>
<circle cx="526.02" cy="146.17" r="1.7" fill="#5e8bc4"/>
<circle cx="530.54" cy="145.66" r="1.7" fill="#5e8bc4"/>
<circle cx="532.60" cy="144.68" r="1.7" fill="#5e8bc4"/>
<circle cx="528.52" cy="164.16" r="1.7" fill="#5e8bc4"/>
<circle cx="531.11" cy="162.33" r="1.7" fill="#5e8bc4"/>
<circle cx="528.57" cy="161.31" r="1.7" fill="#5e8bc4"/>
<circle cx="529.87" cy="160.31" r="1.7" fill="#5e8bc4"/>
<circle cx="530.36" cy="159.96" r="1.7" fill="#5e8bc4"/>
<circle cx="530.53" cy="158.87" r="1.7" fill="#5e8bc4"/>
<circle cx="528.69" cy="157.77" r="1.7" fill="#5e8bc4"/>
<circle cx="530.40" cy="156.73" r="1.7" fill="#5e8bc4"/>
<circle cx="530.33" cy="156.22" r="1.7" fill="#5e8bc4"/>
<circle cx="531.56" cy="154.81" r="1.7" fill="#5e8bc4"/>
<circle cx="532.43" cy="46.92" r="1.7" fill="#5e8bc4"/>
<circle cx="529.13" cy="79.80" r="1.7" fill="#5e8bc4"/>
<circle cx="528.13" cy="85.46" r="1.7" fill="#5e8bc4"/>
<circle cx="530.13" cy="85.46" r="1.7" fill="#5e8bc4"/>
<circle cx="536.13" cy="85.46" r="1.7" fill="#5e8bc4"/>
<circle cx="532.13" cy="95.87" r="1.7" fill="#5e8bc4"/>
<circle cx="534.13" cy="95.87" r="1.7" fill="#5e8bc4"/>
<circle cx="542.13" cy="124.89" r="1.7" fill="#5e8bc4"/>
<circle cx="528.13" cy="164.32" r="1.7" fill="#5e8bc4"/>
<circle cx="532.13" cy="164.32" r="1.7" fill="#5e8bc4"/>
<line x1="592.00" y1="113.43" x2="592.00" y2="136.49" stroke="#f2a0a6" stroke-width="1.2"/>
<line x1="592.00" y1="152.27" x2="592.00" y2="164.32" stroke="#f2a0a6" stroke-width="1.2"/>
<line x1="582.72" y1="113.43" x2="601.28" y2="113.43" stroke="#f2a0a6" stroke-width="1.2"/>
<line x1="582.72" y1="164.32" x2="601.28" y2="164.32" stroke="#f2a0a6" stroke-width="1.2"/>
<rect x="573.44" y="136.49" width="37.12" height="15.77" fill="none" stroke="#f2a0a6" stroke-width="1.2"/>
<line x1="573.44" y1="143.64" x2="610.56" y2="143.64" stroke="#f2a0a6" stroke-width="1.2"/>
<circle cx="586.00" cy="112.54" r="1.7" fill="#e8868e"/>
<circle cx="595.00" cy="112.54" r="1.7" fill="#e8868e"/>
<circle cx="589.00" cy="117.45" r="1.7" fill="#e8868e"/>
<circle cx="587.50" cy="123.55" r="1.7" fill="#e8868e"/>
<circle cx="592.00" cy="127.72" r="1.7" fill="#e8868e"/>
<circle cx="597.00" cy="131.58" r="1.7" fill="#e8868e"/>
<circle cx="590.00" cy="136.05" r="1.7" fill="#e8868e"/>
<circle cx="593.00" cy="136.05" r="1.7" fill="#e8868e"/>
<circle cx="594.00" cy="138.28" r="1.7" fill="#e8868e"/>
<circle cx="596.00" cy="138.28" r="1.7" fill="#e8868e"/>
<circle cx="589.00" cy="140.51" r="1.7" fill="#e8868e"/>
<circle cx="592.00" cy="140.51" r="1.7" fill="#e8868e"/>
<circle cx="594.00" cy="140.51" r="1.7" fill="#e8868e"/>
<circle cx="591.00" cy="142.00" r="1.7" fill="#e8868e"/>
<circle cx="596.00" cy="142.00" r="1.7" fill="#e8868e"/>
<circle cx="589.00" cy="144.98" r="1.7" fill="#e8868e"/>
<circle cx="592.00" cy="144.98" r="1.7" fill="#e8868e"/>
<circle cx="594.00" cy="146.46" r="1.7" fill="#e8868e"/>
<circle cx="596.00" cy="146.46" r="1.7" fill="#e8868e"/>
<circle cx="590.00" cy="151.52" r="1.7" fill="#e8868e"/>
<circle cx="592.00" cy="151.52" r="1.7" fill="#e8868e"/>
<circle cx="597.00" cy="151.52" r="1.7" fill="#e8868e"/>
<circle cx="590.00" cy="157.62" r="1.7" fill="#e8868e"/>
<circle cx="593.00" cy="157.62" r="1.7" fill="#e8868e"/>
<circle cx="591.00" cy="159.56" r="1.7" fill="#e8868e"/>
<circle cx="594.00" cy="159.56" r="1.7" fill="#e8868e"/>
<circle cx="591.00" cy="163.43" r="1.7" fill="#e8868e"/>
<circle cx="593.00" cy="163.43" r="1.7" fill="#e8868e"/>
<line x1="634.69" y1="143.19" x2="673.05" y2="143.19" stroke="#45a872" stroke-width="1.4"/>
<circle cx="647.27" cy="143.19" r="1.45" fill="#2e8f58"/>
<circle cx="652.57" cy="143.19" r="1.45" fill="#2e8f58"/>
<polyline points="528.90,55.50 528.90,42.60 653.50,42.60 653.50,55.50" fill="none" stroke="#3a3a3a" stroke-width="1"/>
<polygon points="585.10,34.30 585.66,35.73 587.19,35.82 586.00,36.79 586.39,38.28 585.10,37.45 583.81,38.28 584.20,36.79 583.01,35.82 584.54,35.73" fill="#111"/>
<polygon points="590.50,34.30 591.06,35.73 592.59,35.82 591.40,36.79 591.79,38.28 590.50,37.45 589.21,38.28 589.60,36.79 588.41,35.82 589.94,35.73" fill="#111"/>
<polygon points="595.90,34.30 596.46,35.73 597.99,35.82 596.80,36.79 597.19,38.28 595.90,37.45 594.61,38.28 595.00,36.79 593.81,35.82 595.34,35.73" fill="#111"/>
<rect x="499.20" y="30.40" width="185.60" height="148.80" fill="none" stroke="#282828" stroke-width="1.5"/>
<line x1="29.90" y1="349.40" x2="31.70" y2="349.40" stroke="#282828" stroke-width="1.0"/>
<line x1="28.50" y1="337.00" x2="31.70" y2="337.00" stroke="#282828" stroke-width="1.0"/>
<line x1="29.90" y1="324.60" x2="31.70" y2="324.60" stroke="#282828" stroke-width="1.0"/>
<line x1="28.50" y1="312.20" x2="31.70" y2="312.20" stroke="#282828" stroke-width="1.0"/>
<line x1="29.90" y1="299.80" x2="31.70" y2="299.80" stroke="#282828" stroke-width="1.0"/>
<line x1="28.50" y1="287.40" x2="31.70" y2="287.40" stroke="#282828" stroke-width="1.0"/>
<line x1="29.90" y1="275.00" x2="31.70" y2="275.00" stroke="#282828" stroke-width="1.0"/>
<line x1="28.50" y1="262.60" x2="31.70" y2="262.60" stroke="#282828" stroke-width="1.0"/>
<line x1="29.90" y1="250.20" x2="31.70" y2="250.20" stroke="#282828" stroke-width="1.0"/>
<line x1="28.50" y1="237.80" x2="31.70" y2="237.80" stroke="#282828" stroke-width="1.0"/>
<line x1="29.90" y1="225.40" x2="31.70" y2="225.40" stroke="#282828" stroke-width="1.0"/>
<line x1="28.50" y1="213.00" x2="31.70" y2="213.00" stroke="#282828" stroke-width="1.0"/>
<line x1="29.90" y1="200.60" x2="31.70" y2="200.60" stroke="#282828" stroke-width="1.0"/>
<text x="26.60" y="339.80" class="tk">1.4</text>
<text x="26.60" y="315.00" class="tk">1.6</text>
<text x="26.60" y="290.20" class="tk">1.8</text>
<text x="26.60" y="265.40" class="tk">2.0</text>
<text x="26.60" y="240.60" class="tk">2.2</text>
<text x="26.60" y="215.80" class="tk">2.4</text>
<text class="ttl" transform="translate(9.20,275.00) rotate(-90)" x="0" y="0">Movement frequency (Hz)</text>
<line x1="62.63" y1="239.29" x2="62.63" y2="273.39" stroke="#78a4d8" stroke-width="1.2"/>
<line x1="62.63" y1="297.94" x2="62.63" y2="331.30" stroke="#78a4d8" stroke-width="1.2"/>
<line x1="53.35" y1="239.29" x2="71.91" y2="239.29" stroke="#78a4d8" stroke-width="1.2"/>
<line x1="53.35" y1="331.30" x2="71.91" y2="331.30" stroke="#78a4d8" stroke-width="1.2"/>
<rect x="44.07" y="273.39" width="37.12" height="24.55" fill="none" stroke="#78a4d8" stroke-width="1.2"/>
<line x1="44.07" y1="286.53" x2="81.19" y2="286.53" stroke="#78a4d8" stroke-width="1.2"/>
<circle cx="65.13" cy="253.86" r="1.7" fill="#5e8bc4"/>
<circle cx="63.25" cy="252.01" r="1.7" fill="#5e8bc4"/>
<circle cx="58.67" cy="249.91" r="1.7" fill="#5e8bc4"/>
<circle cx="62.14" cy="248.25" r="1.7" fill="#5e8bc4"/>
<circle cx="64.81" cy="261.27" r="1.7" fill="#5e8bc4"/>
<circle cx="61.15" cy="260.13" r="1.7" fill="#5e8bc4"/>
<circle cx="65.40" cy="257.05" r="1.7" fill="#5e8bc4"/>
<circle cx="66.30" cy="255.82" r="1.7" fill="#5e8bc4"/>
<circle cx="65.73" cy="271.22" r="1.7" fill="#5e8bc4"/>
<circle cx="58.22" cy="268.93" r="1.7" fill="#5e8bc4"/>
<circle cx="63.48" cy="267.33" r="1.7" fill="#5e8bc4"/>
<circle cx="61.62" cy="266.18" r="1.7" fill="#5e8bc4"/>
<circle cx="65.32" cy="264.76" r="1.7" fill="#5e8bc4"/>
<circle cx="58.89" cy="262.85" r="1.7" fill="#5e8bc4"/>
<circle cx="66.01" cy="279.60" r="1.7" fill="#5e8bc4"/>
<circle cx="60.48" cy="278.91" r="1.7" fill="#5e8bc4"/>
<circle cx="64.30" cy="278.58" r="1.7" fill="#5e8bc4"/>
<circle cx="63.20" cy="277.88" r="1.7" fill="#5e8bc4"/>
<circle cx="64.64" cy="277.41" r="1.7" fill="#5e8bc4"/>
<circle cx="60.08" cy="276.47" r="1.7" fill="#5e8bc4"/>
<circle cx="61.66" cy="275.85" r="1.7" fill="#5e8bc4"/>
<circle cx="60.20" cy="275.62" r="1.7" fill="#5e8bc4"/>
<circle cx="62.90" cy="274.51" r="1.7" fill="#5e8bc4"/>
<circle cx="59.86" cy="274.05" r="1.7" fill="#5e8bc4"/>
<circle cx="66.82" cy="273.35" r="1.7" fill="#5e8bc4"/>
<circle cx="64.65" cy="272.98" r="1.7" fill="#5e8bc4"/>
<circle cx="62.52" cy="272.47" r="1.7" fill="#5e8bc4"/>
<circle cx="67.12" cy="271.77" r="1.7" fill="#5e8bc4"/>
<circle cx="65.93" cy="289.42" r="1.7" fill="#5e8bc4"/>
<circle cx="62.47" cy="289.02" r="1.7" fill="#5e8bc4"/>
<circle cx="61.14" cy="288.34" r="1.7" fill="#5e8bc4"/>
<circle cx="58.88" cy="287.64" r="1.7" fill="#5e8bc4"/>
<circle cx="64.23" cy="287.00" r="1.7" fill="#5e8bc4"/>
<circle cx="63.62" cy="286.62" r="1.7" fill="#5e8bc4"/>
<circle cx="61.80" cy="285.70" r="1.7" fill="#5e8bc4"/>
<circle cx="66.11" cy="285.53" r="1.7" fill="#5e8bc4"/>
<circle cx="62.48" cy="284.88" r="1.7" fill="#5e8bc4"/>
<circle cx="66.79" cy="283.87" r="1.7" fill="#5e8bc4"/>
<circle cx="62.14" cy="283.26" r="1.7" fill="#5e8bc4"/>
<circle cx="65.97" cy="282.77" r="1.7" fill="#5e8bc4"/>
<circle cx="66.98" cy="282.15" r="1.7" fill="#5e8bc4"/>
<circle cx="66.66" cy="281.70" r="1.7" fill="#5e8bc4"/>
<circle cx="63.38" cy="280.59" r="1.7" fill="#5e8bc4"/>
<circle cx="62.74" cy="280.30" r="1.7" fill="#5e8bc4"/>
<circle cx="65.72" cy="297.97" r="1.7" fill="#5e8bc4"/>
<circle cx="62.37" cy="297.64" r="1.7" fill="#5e8bc4"/>
<circle cx="64.62" cy="296.96" r="1.7" fill="#5e8bc4"/>
<circle cx="62.33" cy="295.97" r="1.7" fill="#5e8bc4"/>
<circle cx="56.58" cy="295.56" r="1.7" fill="#5e8bc4"/>
<circle cx="61.97" cy="294.85" r="1.7" fill="#5e8bc4"/>
<circle cx="57.51" cy="293.63" r="1.7" fill="#5e8bc4"/>
<circle cx="62.64" cy="292.99" r="1.7" fill="#5e8bc4"/>
<circle cx="65.33" cy="292.61" r="1.7" fill="#5e8bc4"/>
<circle cx="61.14" cy="292.03" r="1.7" fill="#5e8bc4"/>
<circle cx="60.09" cy="291.32" r="1.7" fill="#5e8bc4"/>
<circle cx="63.08" cy="290.38" r="1.7" fill="#5e8bc4"/>
<circle cx="61.67" cy="308.32" r="1.7" fill="#5e8bc4"/>
<circle cx="64.82" cy="306.45" r="1.7" fill="#5e8bc4"/>
<circle cx="62.96" cy="306.27" r="1.7" fill="#5e8bc4"/>
<circle cx="57.96" cy="305.04" r="1.7" fill="#5e8bc4"/>
<circle cx="61.64" cy="303.05" r="1.7" fill="#5e8bc4"/>
<circle cx="57.49" cy="302.65" r="1.7" fill="#5e8bc4"/>
<circle cx="55.48" cy="301.46" r="1.7" fill="#5e8bc4"/>
<circle cx="68.87" cy="300.12" r="1.7" fill="#5e8bc4"/>
<circle cx="61.06" cy="299.26" r="1.7" fill="#5e8bc4"/>
<circle cx="63.84" cy="321.96" r="1.7" fill="#5e8bc4"/>
<circle cx="64.02" cy="318.36" r="1.7" fill="#5e8bc4"/>
<circle cx="61.10" cy="312.11" r="1.7" fill="#5e8bc4"/>
<circle cx="62.63" cy="311.04" r="1.7" fill="#5e8bc4"/>
<circle cx="66.03" cy="325.49" r="1.7" fill="#5e8bc4"/>
<circle cx="68.13" cy="323.29" r="1.7" fill="#5e8bc4"/>
<circle cx="57.63" cy="231.97" r="1.7" fill="#5e8bc4"/>
<circle cx="62.63" cy="231.97" r="1.7" fill="#5e8bc4"/>
<circle cx="64.63" cy="231.97" r="1.7" fill="#5e8bc4"/>
<circle cx="61.63" cy="239.04" r="1.7" fill="#5e8bc4"/>
<circle cx="63.63" cy="239.04" r="1.7" fill="#5e8bc4"/>
<circle cx="62.63" cy="331.42" r="1.7" fill="#5e8bc4"/>
<circle cx="64.63" cy="331.42" r="1.7" fill="#5e8bc4"/>
<circle cx="58.63" cy="337.62" r="1.7" fill="#5e8bc4"/>
<line x1="124.50" y1="232.72" x2="124.50" y2="257.52" stroke="#f2a0a6" stroke-width="1.2"/>
<line x1="124.50" y1="283.31" x2="124.50" y2="308.48" stroke="#f2a0a6" stroke-width="1.2"/>
<line x1="115.22" y1="232.72" x2="133.78" y2="232.72" stroke="#f2a0a6" stroke-width="1.2"/>
<line x1="115.22" y1="308.48" x2="133.78" y2="308.48" stroke="#f2a0a6" stroke-width="1.2"/>
<rect x="105.94" y="257.52" width="37.12" height="25.79" fill="none" stroke="#f2a0a6" stroke-width="1.2"/>
<line x1="105.94" y1="276.49" x2="143.06" y2="276.49" stroke="#f2a0a6" stroke-width="1.2"/>
<circle cx="123.00" cy="232.84" r="1.7" fill="#e8868e"/>
<circle cx="125.50" cy="232.84" r="1.7" fill="#e8868e"/>
<circle cx="128.50" cy="232.84" r="1.7" fill="#e8868e"/>
<circle cx="120.50" cy="235.32" r="1.7" fill="#e8868e"/>
<circle cx="126.00" cy="248.96" r="1.7" fill="#e8868e"/>
<circle cx="117.50" cy="251.44" r="1.7" fill="#e8868e"/>
<circle cx="119.50" cy="251.44" r="1.7" fill="#e8868e"/>
<circle cx="123.50" cy="257.64" r="1.7" fill="#e8868e"/>
<circle cx="121.50" cy="267.56" r="1.7" fill="#e8868e"/>
<circle cx="118.50" cy="271.28" r="1.7" fill="#e8868e"/>
<circle cx="124.50" cy="271.28" r="1.7" fill="#e8868e"/>
<circle cx="128.50" cy="271.28" r="1.7" fill="#e8868e"/>
<circle cx="122.50" cy="275.00" r="1.7" fill="#e8868e"/>
<circle cx="125.50" cy="275.00" r="1.7" fill="#e8868e"/>
<circle cx="127.50" cy="275.00" r="1.7" fill="#e8868e"/>
<circle cx="123.50" cy="276.24" r="1.7" fill="#e8868e"/>
<circle cx="126.50" cy="276.24" r="1.7" fill="#e8868e"/>
<circle cx="121.50" cy="278.72" r="1.7" fill="#e8868e"/>
<circle cx="124.50" cy="278.72" r="1.7" fill="#e8868e"/>
<circle cx="126.50" cy="278.72" r="1.7" fill="#e8868e"/>
<circle cx="123.50" cy="281.82" r="1.7" fill="#e8868e"/>
<circle cx="127.50" cy="281.82" r="1.7" fill="#e8868e"/>
<circle cx="120.50" cy="288.64" r="1.7" fill="#e8868e"/>
<circle cx="124.50" cy="288.64" r="1.7" fill="#e8868e"/>
<circle cx="123.50" cy="291.74" r="1.7" fill="#e8868e"/>
<circle cx="128.50" cy="291.74" r="1.7" fill="#e8868e"/>
<circle cx="124.50" cy="308.48" r="1.7" fill="#e8868e"/>
<rect x="167.81" y="256.90" width="37.12" height="6.45" fill="none" stroke="#45a872" stroke-width="1.2"/>
<line x1="167.81" y1="260.00" x2="204.93" y2="260.00" stroke="#45a872" stroke-width="1.2"/>
<circle cx="179.97" cy="263.10" r="1.45" fill="#2e8f58"/>
<circle cx="186.37" cy="260.00" r="1.45" fill="#2e8f58"/>
<circle cx="184.77" cy="256.90" r="1.45" fill="#2e8f58"/>
<polyline points="61.40,226.00 61.40,213.40 189.40,213.40 189.40,226.00" fill="none" stroke="#3a3a3a" stroke-width="1"/>
<polygon points="120.30,206.00 120.86,207.43 122.39,207.52 121.20,208.49 121.59,209.98 120.30,209.15 119.01,209.98 119.40,208.49 118.21,207.52 119.74,207.43" fill="#111"/>
<polygon points="125.70,206.00 126.26,207.43 127.79,207.52 126.60,208.49 126.99,209.98 125.70,209.15 124.41,209.98 124.80,208.49 123.61,207.52 125.14,207.43" fill="#111"/>
<polygon points="131.10,206.00 131.66,207.43 133.19,207.52 132.00,208.49 132.39,209.98 131.10,209.15 129.81,209.98 130.20,208.49 129.01,207.52 130.54,207.43" fill="#111"/>
<polyline points="124.00,226.00 124.00,221.60 185.30,221.60 185.30,226.00" fill="none" stroke="#3a3a3a" stroke-width="1"/>
<polygon points="153.75,215.00 154.31,216.43 155.84,216.52 154.65,217.49 155.04,218.98 153.75,218.15 152.46,218.98 152.85,217.49 151.66,216.52 153.19,216.43" fill="#111"/>
<polygon points="159.15,215.00 159.71,216.43 161.24,216.52 160.05,217.49 160.44,218.98 159.15,218.15 157.86,218.98 158.25,217.49 157.06,216.52 158.59,216.43" fill="#111"/>
<rect x="31.70" y="200.60" width="185.60" height="148.80" fill="none" stroke="#282828" stroke-width="1.5"/>
<line x1="259.60" y1="349.40" x2="262.80" y2="349.40" stroke="#282828" stroke-width="1.0"/>
<line x1="261.00" y1="337.00" x2="262.80" y2="337.00" stroke="#282828" stroke-width="1.0"/>
<line x1="259.60" y1="324.60" x2="262.80" y2="324.60" stroke="#282828" stroke-width="1.0"/>
<line x1="261.00" y1="312.20" x2="262.80" y2="312.20" stroke="#282828" stroke-width="1.0"/>
<line x1="259.60" y1="299.80" x2="262.80" y2="299.80" stroke="#282828" stroke-width="1.0"/>
<line x1="261.00" y1="287.40" x2="262.80" y2="287.40" stroke="#282828" stroke-width="1.0"/>
<line x1="259.60" y1="275.00" x2="262.80" y2="275.00" stroke="#282828" stroke-width="1.0"/>
<line x1="261.00" y1="262.60" x2="262.80" y2="262.60" stroke="#282828" stroke-width="1.0"/>
<line x1="259.60" y1="250.20" x2="262.80" y2="250.20" stroke="#282828" stroke-width="1.0"/>
<line x1="261.00" y1="237.80" x2="262.80" y2="237.80" stroke="#282828" stroke-width="1.0"/>
<line x1="259.60" y1="225.40" x2="262.80" y2="225.40" stroke="#282828" stroke-width="1.0"/>
<line x1="261.00" y1="213.00" x2="262.80" y2="213.00" stroke="#282828" stroke-width="1.0"/>
<line x1="259.60" y1="200.60" x2="262.80" y2="200.60" stroke="#282828" stroke-width="1.0"/>
<text x="257.70" y="352.20" class="tk">20</text>
<text x="257.70" y="327.40" class="tk">30</text>
<text x="257.70" y="302.60" class="tk">40</text>
<text x="257.70" y="277.80" class="tk">50</text>
<text x="257.70" y="253.00" class="tk">60</text>
<text x="257.70" y="228.20" class="tk">70</text>
<text x="257.70" y="203.40" class="tk">80</text>
<text class="ttl" transform="translate(241.80,275.00) rotate(-90)" x="0" y="0">Rotation frequency (deg/s)</text>
<line x1="293.73" y1="239.29" x2="293.73" y2="282.19" stroke="#78a4d8" stroke-width="1.2"/>
<line x1="293.73" y1="312.70" x2="293.73" y2="341.22" stroke="#78a4d8" stroke-width="1.2"/>
<line x1="284.45" y1="239.29" x2="303.01" y2="239.29" stroke="#78a4d8" stroke-width="1.2"/>
<line x1="284.45" y1="341.22" x2="303.01" y2="341.22" stroke="#78a4d8" stroke-width="1.2"/>
<rect x="275.17" y="282.19" width="37.12" height="30.50" fill="none" stroke="#78a4d8" stroke-width="1.2"/>
<line x1="275.17" y1="298.31" x2="312.29" y2="298.31" stroke="#78a4d8" stroke-width="1.2"/>
<circle cx="292.56" cy="253.20" r="1.7" fill="#5e8bc4"/>
<circle cx="299.32" cy="252.73" r="1.7" fill="#5e8bc4"/>
<circle cx="290.83" cy="252.20" r="1.7" fill="#5e8bc4"/>
<circle cx="298.05" cy="251.52" r="1.7" fill="#5e8bc4"/>
<circle cx="295.32" cy="251.10" r="1.7" fill="#5e8bc4"/>
<circle cx="292.72" cy="250.34" r="1.7" fill="#5e8bc4"/>
<circle cx="292.35" cy="263.04" r="1.7" fill="#5e8bc4"/>
<circle cx="296.08" cy="261.08" r="1.7" fill="#5e8bc4"/>
<circle cx="296.14" cy="260.64" r="1.7" fill="#5e8bc4"/>
<circle cx="293.54" cy="259.64" r="1.7" fill="#5e8bc4"/>
<circle cx="286.94" cy="258.64" r="1.7" fill="#5e8bc4"/>
<circle cx="292.99" cy="257.17" r="1.7" fill="#5e8bc4"/>
<circle cx="297.18" cy="256.40" r="1.7" fill="#5e8bc4"/>
<circle cx="294.97" cy="255.59" r="1.7" fill="#5e8bc4"/>
<circle cx="295.54" cy="253.77" r="1.7" fill="#5e8bc4"/>
<circle cx="295.09" cy="271.97" r="1.7" fill="#5e8bc4"/>
<circle cx="299.59" cy="269.55" r="1.7" fill="#5e8bc4"/>
<circle cx="295.12" cy="268.82" r="1.7" fill="#5e8bc4"/>
<circle cx="295.34" cy="267.79" r="1.7" fill="#5e8bc4"/>
<circle cx="295.65" cy="265.77" r="1.7" fill="#5e8bc4"/>
<circle cx="295.07" cy="264.29" r="1.7" fill="#5e8bc4"/>
<circle cx="297.32" cy="281.75" r="1.7" fill="#5e8bc4"/>
<circle cx="291.22" cy="280.73" r="1.7" fill="#5e8bc4"/>
<circle cx="291.53" cy="279.52" r="1.7" fill="#5e8bc4"/>
<circle cx="293.65" cy="278.40" r="1.7" fill="#5e8bc4"/>
<circle cx="292.86" cy="277.53" r="1.7" fill="#5e8bc4"/>
<circle cx="300.74" cy="276.24" r="1.7" fill="#5e8bc4"/>
<circle cx="290.48" cy="274.58" r="1.7" fill="#5e8bc4"/>
<circle cx="290.26" cy="273.72" r="1.7" fill="#5e8bc4"/>
<circle cx="294.06" cy="291.61" r="1.7" fill="#5e8bc4"/>
<circle cx="296.66" cy="290.50" r="1.7" fill="#5e8bc4"/>
<circle cx="297.10" cy="289.08" r="1.7" fill="#5e8bc4"/>
<circle cx="289.74" cy="289.02" r="1.7" fill="#5e8bc4"/>
<circle cx="292.64" cy="288.06" r="1.7" fill="#5e8bc4"/>
<circle cx="288.68" cy="286.71" r="1.7" fill="#5e8bc4"/>
<circle cx="296.62" cy="285.66" r="1.7" fill="#5e8bc4"/>
<circle cx="294.04" cy="284.39" r="1.7" fill="#5e8bc4"/>
<circle cx="298.32" cy="283.55" r="1.7" fill="#5e8bc4"/>
<circle cx="288.55" cy="283.15" r="1.7" fill="#5e8bc4"/>
<circle cx="295.82" cy="301.45" r="1.7" fill="#5e8bc4"/>
<circle cx="296.64" cy="300.18" r="1.7" fill="#5e8bc4"/>
<circle cx="293.37" cy="299.17" r="1.7" fill="#5e8bc4"/>
<circle cx="290.34" cy="298.50" r="1.7" fill="#5e8bc4"/>
<circle cx="293.33" cy="297.94" r="1.7" fill="#5e8bc4"/>
<circle cx="293.80" cy="296.88" r="1.7" fill="#5e8bc4"/>
<circle cx="297.31" cy="296.51" r="1.7" fill="#5e8bc4"/>
<circle cx="292.23" cy="295.65" r="1.7" fill="#5e8bc4"/>
<circle cx="293.99" cy="294.98" r="1.7" fill="#5e8bc4"/>
<circle cx="297.73" cy="293.72" r="1.7" fill="#5e8bc4"/>
<circle cx="296.90" cy="293.39" r="1.7" fill="#5e8bc4"/>
<circle cx="295.39" cy="292.20" r="1.7" fill="#5e8bc4"/>
<circle cx="294.62" cy="310.83" r="1.7" fill="#5e8bc4"/>
<circle cx="297.51" cy="310.23" r="1.7" fill="#5e8bc4"/>
<circle cx="287.66" cy="308.98" r="1.7" fill="#5e8bc4"/>
<circle cx="295.64" cy="307.68" r="1.7" fill="#5e8bc4"/>
<circle cx="292.15" cy="306.48" r="1.7" fill="#5e8bc4"/>
<circle cx="294.33" cy="306.13" r="1.7" fill="#5e8bc4"/>
<circle cx="293.41" cy="304.48" r="1.7" fill="#5e8bc4"/>
<circle cx="291.89" cy="304.42" r="1.7" fill="#5e8bc4"/>
<circle cx="292.79" cy="302.99" r="1.7" fill="#5e8bc4"/>
<circle cx="291.62" cy="302.25" r="1.7" fill="#5e8bc4"/>
<circle cx="295.70" cy="319.93" r="1.7" fill="#5e8bc4"/>
<circle cx="293.19" cy="319.55" r="1.7" fill="#5e8bc4"/>
<circle cx="290.58" cy="318.18" r="1.7" fill="#5e8bc4"/>
<circle cx="295.92" cy="317.28" r="1.7" fill="#5e8bc4"/>
<circle cx="293.82" cy="315.61" r="1.7" fill="#5e8bc4"/>
<circle cx="290.96" cy="315.18" r="1.7" fill="#5e8bc4"/>
<circle cx="292.21" cy="313.33" r="1.7" fill="#5e8bc4"/>
<circle cx="298.49" cy="313.06" r="1.7" fill="#5e8bc4"/>
<circle cx="294.18" cy="312.02" r="1.7" fill="#5e8bc4"/>
<circle cx="291.86" cy="329.15" r="1.7" fill="#5e8bc4"/>
<circle cx="294.74" cy="328.50" r="1.7" fill="#5e8bc4"/>
<circle cx="295.74" cy="327.38" r="1.7" fill="#5e8bc4"/>
<circle cx="295.42" cy="325.87" r="1.7" fill="#5e8bc4"/>
<circle cx="293.57" cy="324.99" r="1.7" fill="#5e8bc4"/>
<circle cx="295.45" cy="324.00" r="1.7" fill="#5e8bc4"/>
<circle cx="293.80" cy="322.99" r="1.7" fill="#5e8bc4"/>
<circle cx="289.68" cy="321.77" r="1.7" fill="#5e8bc4"/>
<circle cx="297.49" cy="338.76" r="1.7" fill="#5e8bc4"/>
<circle cx="300.05" cy="337.58" r="1.7" fill="#5e8bc4"/>
<circle cx="293.94" cy="336.76" r="1.7" fill="#5e8bc4"/>
<circle cx="297.99" cy="335.57" r="1.7" fill="#5e8bc4"/>
<circle cx="292.34" cy="334.41" r="1.7" fill="#5e8bc4"/>
<circle cx="292.21" cy="332.15" r="1.7" fill="#5e8bc4"/>
<circle cx="295.77" cy="331.23" r="1.7" fill="#5e8bc4"/>
<circle cx="290.73" cy="226.64" r="1.7" fill="#5e8bc4"/>
<circle cx="290.73" cy="234.82" r="1.7" fill="#5e8bc4"/>
<circle cx="293.73" cy="239.29" r="1.7" fill="#5e8bc4"/>
<circle cx="292.73" cy="341.22" r="1.7" fill="#5e8bc4"/>
<circle cx="294.73" cy="341.22" r="1.7" fill="#5e8bc4"/>
<line x1="355.60" y1="251.19" x2="355.60" y2="261.61" stroke="#f2a0a6" stroke-width="1.2"/>
<line x1="355.60" y1="304.51" x2="355.60" y2="333.28" stroke="#f2a0a6" stroke-width="1.2"/>
<line x1="346.32" y1="251.19" x2="364.88" y2="251.19" stroke="#f2a0a6" stroke-width="1.2"/>
<line x1="346.32" y1="333.28" x2="364.88" y2="333.28" stroke="#f2a0a6" stroke-width="1.2"/>
<rect x="337.04" y="261.61" width="37.12" height="42.90" fill="none" stroke="#f2a0a6" stroke-width="1.2"/>
<line x1="337.04" y1="288.64" x2="374.16" y2="288.64" stroke="#f2a0a6" stroke-width="1.2"/>
<circle cx="353.60" cy="251.19" r="1.7" fill="#e8868e"/>
<circle cx="355.60" cy="251.19" r="1.7" fill="#e8868e"/>
<circle cx="357.60" cy="251.19" r="1.7" fill="#e8868e"/>
<circle cx="354.60" cy="255.90" r="1.7" fill="#e8868e"/>
<circle cx="352.60" cy="260.62" r="1.7" fill="#e8868e"/>
<circle cx="355.60" cy="260.62" r="1.7" fill="#e8868e"/>
<circle cx="361.60" cy="275.50" r="1.7" fill="#e8868e"/>
<circle cx="354.60" cy="281.70" r="1.7" fill="#e8868e"/>
<circle cx="358.60" cy="281.70" r="1.7" fill="#e8868e"/>
<circle cx="353.60" cy="287.65" r="1.7" fill="#e8868e"/>
<circle cx="355.60" cy="287.65" r="1.7" fill="#e8868e"/>
<circle cx="358.60" cy="287.65" r="1.7" fill="#e8868e"/>
<circle cx="354.60" cy="290.87" r="1.7" fill="#e8868e"/>
<circle cx="357.60" cy="290.87" r="1.7" fill="#e8868e"/>
<circle cx="360.60" cy="290.87" r="1.7" fill="#e8868e"/>
<circle cx="361.60" cy="296.08" r="1.7" fill="#e8868e"/>
<circle cx="353.60" cy="303.27" r="1.7" fill="#e8868e"/>
<circle cx="355.60" cy="303.27" r="1.7" fill="#e8868e"/>
<circle cx="354.60" cy="308.48" r="1.7" fill="#e8868e"/>
<circle cx="353.60" cy="312.20" r="1.7" fill="#e8868e"/>
<circle cx="357.60" cy="320.14" r="1.7" fill="#e8868e"/>
<circle cx="353.60" cy="331.30" r="1.7" fill="#e8868e"/>
<circle cx="356.60" cy="331.30" r="1.7" fill="#e8868e"/>
<circle cx="358.60" cy="331.30" r="1.7" fill="#e8868e"/>
<line x1="398.29" y1="282.19" x2="436.65" y2="282.19" stroke="#45a872" stroke-width="1.4"/>
<circle cx="410.87" cy="282.19" r="1.45" fill="#2e8f58"/>
<circle cx="415.87" cy="282.19" r="1.45" fill="#2e8f58"/>
<polyline points="293.80,224.70 293.80,214.10 418.30,214.10 418.30,224.70" fill="none" stroke="#3a3a3a" stroke-width="1"/>
<polygon points="350.20,206.80 350.76,208.23 352.29,208.32 351.10,209.29 351.49,210.78 350.20,209.95 348.91,210.78 349.30,209.29 348.11,208.32 349.64,208.23" fill="#111"/>
<polygon points="355.60,206.80 356.16,208.23 357.69,208.32 356.50,209.29 356.89,210.78 355.60,209.95 354.31,210.78 354.70,209.29 353.51,208.32 355.04,208.23" fill="#111"/>
<polygon points="361.00,206.80 361.56,208.23 363.09,208.32 361.90,209.29 362.29,210.78 361.00,209.95 359.71,210.78 360.10,209.29 358.91,208.32 360.44,208.23" fill="#111"/>
<rect x="262.80" y="200.60" width="185.60" height="148.80" fill="none" stroke="#282828" stroke-width="1.5"/>
<line x1="497.40" y1="349.40" x2="499.20" y2="349.40" stroke="#282828" stroke-width="1.0"/>
<line x1="496.00" y1="340.10" x2="499.20" y2="340.10" stroke="#282828" stroke-width="1.0"/>
<line x1="497.40" y1="330.80" x2="499.20" y2="330.80" stroke="#282828" stroke-width="1.0"/>
<line x1="496.00" y1="321.50" x2="499.20" y2="321.50" stroke="#282828" stroke-width="1.0"/>
<line x1="497.40" y1="312.20" x2="499.20" y2="312.20" stroke="#282828" stroke-width="1.0"/>
<line x1="496.00" y1="302.90" x2="499.20" y2="302.90" stroke="#282828" stroke-width="1.0"/>
<line x1="497.40" y1="293.60" x2="499.20" y2="293.60" stroke="#282828" stroke-width="1.0"/>
<line x1="496.00" y1="284.30" x2="499.20" y2="284.30" stroke="#282828" stroke-width="1.0"/>
<line x1="497.40" y1="275.00" x2="499.20" y2="275.00" stroke="#282828" stroke-width="1.0"/>
<line x1="496.00" y1="265.70" x2="499.20" y2="265.70" stroke="#282828" stroke-width="1.0"/>
<line x1="497.40" y1="256.40" x2="499.20" y2="256.40" stroke="#282828" stroke-width="1.0"/>
<line x1="496.00" y1="247.10" x2="499.20" y2="247.10" stroke="#282828" stroke-width="1.0"/>
<line x1="497.40" y1="237.80" x2="499.20" y2="237.80" stroke="#282828" stroke-width="1.0"/>
<line x1="496.00" y1="228.50" x2="499.20" y2="228.50" stroke="#282828" stroke-width="1.0"/>
<line x1="497.40" y1="219.20" x2="499.20" y2="219.20" stroke="#282828" stroke-width="1.0"/>
<line x1="496.00" y1="209.90" x2="499.20" y2="209.90" stroke="#282828" stroke-width="1.0"/>
<line x1="497.40" y1="200.60" x2="499.20" y2="200.60" stroke="#282828" stroke-width="1.0"/>
<text x="494.10" y="342.90" class="tk">0.0</text>
<text x="494.10" y="324.30" class="tk">0.1</text>
<text x="494.10" y="305.70" class="tk">0.2</text>
<text x="494.10" y="287.10" class="tk">0.3</text>
<text x="494.10" y="268.50" class="tk">0.4</text>
<text x="494.10" y="249.90" class="tk">0.5</text>
<text x="494.10" y="231.30" class="tk">0.6</text>
<text x="494.10" y="212.70" class="tk">0.7</text>
<text class="ttl" transform="translate(476.70,275.00) rotate(-90)" x="0" y="0">Connection frequency (Hz)</text>
<line x1="530.13" y1="290.07" x2="530.13" y2="317.04" stroke="#78a4d8" stroke-width="1.2"/>
<line x1="530.13" y1="340.10" x2="530.13" y2="340.10" stroke="#78a4d8" stroke-width="1.2"/>
<line x1="520.85" y1="290.07" x2="539.41" y2="290.07" stroke="#78a4d8" stroke-width="1.2"/>
<line x1="520.85" y1="340.10" x2="539.41" y2="340.10" stroke="#78a4d8" stroke-width="1.2"/>
<rect x="511.57" y="317.04" width="37.12" height="23.06" fill="none" stroke="#78a4d8" stroke-width="1.2"/>
<line x1="511.57" y1="328.75" x2="548.69" y2="328.75" stroke="#78a4d8" stroke-width="1.2"/>
<circle cx="532.54" cy="315.22" r="1.7" fill="#5e8bc4"/>
<circle cx="530.47" cy="314.23" r="1.7" fill="#5e8bc4"/>
<circle cx="535.22" cy="312.89" r="1.7" fill="#5e8bc4"/>
<circle cx="535.14" cy="312.68" r="1.7" fill="#5e8bc4"/>
<circle cx="532.53" cy="311.72" r="1.7" fill="#5e8bc4"/>
<circle cx="526.08" cy="310.82" r="1.7" fill="#5e8bc4"/>
<circle cx="527.96" cy="322.20" r="1.7" fill="#5e8bc4"/>
<circle cx="530.85" cy="320.59" r="1.7" fill="#5e8bc4"/>
<circle cx="526.79" cy="320.36" r="1.7" fill="#5e8bc4"/>
<circle cx="534.61" cy="319.64" r="1.7" fill="#5e8bc4"/>
<circle cx="532.11" cy="318.45" r="1.7" fill="#5e8bc4"/>
<circle cx="526.33" cy="317.91" r="1.7" fill="#5e8bc4"/>
<circle cx="535.83" cy="317.05" r="1.7" fill="#5e8bc4"/>
<circle cx="532.67" cy="316.00" r="1.7" fill="#5e8bc4"/>
<circle cx="532.33" cy="328.70" r="1.7" fill="#5e8bc4"/>
<circle cx="529.03" cy="328.40" r="1.7" fill="#5e8bc4"/>
<circle cx="528.93" cy="327.43" r="1.7" fill="#5e8bc4"/>
<circle cx="529.07" cy="326.99" r="1.7" fill="#5e8bc4"/>
<circle cx="530.40" cy="326.65" r="1.7" fill="#5e8bc4"/>
<circle cx="530.66" cy="325.83" r="1.7" fill="#5e8bc4"/>
<circle cx="526.28" cy="325.16" r="1.7" fill="#5e8bc4"/>
<circle cx="525.79" cy="325.10" r="1.7" fill="#5e8bc4"/>
<circle cx="524.00" cy="324.40" r="1.7" fill="#5e8bc4"/>
<circle cx="531.45" cy="323.42" r="1.7" fill="#5e8bc4"/>
<circle cx="530.42" cy="323.17" r="1.7" fill="#5e8bc4"/>
<circle cx="533.19" cy="322.53" r="1.7" fill="#5e8bc4"/>
<circle cx="532.35" cy="335.48" r="1.7" fill="#5e8bc4"/>
<circle cx="534.71" cy="335.01" r="1.7" fill="#5e8bc4"/>
<circle cx="530.94" cy="334.39" r="1.7" fill="#5e8bc4"/>
<circle cx="526.92" cy="334.10" r="1.7" fill="#5e8bc4"/>
<circle cx="527.50" cy="333.53" r="1.7" fill="#5e8bc4"/>
<circle cx="533.90" cy="333.10" r="1.7" fill="#5e8bc4"/>
<circle cx="530.47" cy="332.45" r="1.7" fill="#5e8bc4"/>
<circle cx="528.47" cy="331.96" r="1.7" fill="#5e8bc4"/>
<circle cx="528.25" cy="331.40" r="1.7" fill="#5e8bc4"/>
<circle cx="529.68" cy="330.28" r="1.7" fill="#5e8bc4"/>
<circle cx="532.47" cy="329.77" r="1.7" fill="#5e8bc4"/>
<circle cx="530.28" cy="329.65" r="1.7" fill="#5e8bc4"/>
<circle cx="526.34" cy="340.08" r="1.7" fill="#5e8bc4"/>
<circle cx="530.47" cy="339.77" r="1.7" fill="#5e8bc4"/>
<circle cx="527.30" cy="339.59" r="1.7" fill="#5e8bc4"/>
<circle cx="532.24" cy="339.26" r="1.7" fill="#5e8bc4"/>
<circle cx="532.63" cy="339.02" r="1.7" fill="#5e8bc4"/>
<circle cx="527.28" cy="338.94" r="1.7" fill="#5e8bc4"/>
<circle cx="529.52" cy="338.54" r="1.7" fill="#5e8bc4"/>
<circle cx="533.67" cy="338.42" r="1.7" fill="#5e8bc4"/>
<circle cx="531.05" cy="338.11" r="1.7" fill="#5e8bc4"/>
<circle cx="532.29" cy="338.00" r="1.7" fill="#5e8bc4"/>
<circle cx="532.98" cy="337.79" r="1.7" fill="#5e8bc4"/>
<circle cx="528.16" cy="337.53" r="1.7" fill="#5e8bc4"/>
<circle cx="533.52" cy="337.28" r="1.7" fill="#5e8bc4"/>
<circle cx="530.29" cy="337.09" r="1.7" fill="#5e8bc4"/>
<circle cx="525.88" cy="336.73" r="1.7" fill="#5e8bc4"/>
<circle cx="523.88" cy="336.67" r="1.7" fill="#5e8bc4"/>
<circle cx="532.53" cy="336.35" r="1.7" fill="#5e8bc4"/>
<circle cx="525.91" cy="336.03" r="1.7" fill="#5e8bc4"/>
<circle cx="532.13" cy="221.06" r="1.7" fill="#5e8bc4"/>
<circle cx="526.63" cy="274.81" r="1.7" fill="#5e8bc4"/>
<circle cx="530.13" cy="282.63" r="1.7" fill="#5e8bc4"/>
<circle cx="532.13" cy="282.63" r="1.7" fill="#5e8bc4"/>
<circle cx="531.13" cy="291.00" r="1.7" fill="#5e8bc4"/>
<circle cx="533.13" cy="291.00" r="1.7" fill="#5e8bc4"/>
<circle cx="531.13" cy="296.39" r="1.7" fill="#5e8bc4"/>
<circle cx="536.13" cy="296.39" r="1.7" fill="#5e8bc4"/>
<circle cx="529.13" cy="305.13" r="1.7" fill="#5e8bc4"/>
<circle cx="532.13" cy="305.13" r="1.7" fill="#5e8bc4"/>
<circle cx="535.13" cy="305.13" r="1.7" fill="#5e8bc4"/>
<line x1="592.00" y1="275.00" x2="592.00" y2="304.95" stroke="#f2a0a6" stroke-width="1.2"/>
<line x1="592.00" y1="331.17" x2="592.00" y2="340.10" stroke="#f2a0a6" stroke-width="1.2"/>
<line x1="582.72" y1="275.00" x2="601.28" y2="275.00" stroke="#f2a0a6" stroke-width="1.2"/>
<line x1="582.72" y1="340.10" x2="601.28" y2="340.10" stroke="#f2a0a6" stroke-width="1.2"/>
<rect x="573.44" y="304.95" width="37.12" height="26.23" fill="none" stroke="#f2a0a6" stroke-width="1.2"/>
<line x1="573.44" y1="321.31" x2="610.56" y2="321.31" stroke="#f2a0a6" stroke-width="1.2"/>
<circle cx="588.00" cy="221.06" r="1.7" fill="#e8868e"/>
<circle cx="592.00" cy="275.00" r="1.7" fill="#e8868e"/>
<circle cx="591.00" cy="281.88" r="1.7" fill="#e8868e"/>
<circle cx="592.00" cy="281.88" r="1.7" fill="#e8868e"/>
<circle cx="594.00" cy="289.51" r="1.7" fill="#e8868e"/>
<circle cx="589.00" cy="295.27" r="1.7" fill="#e8868e"/>
<circle cx="595.00" cy="295.27" r="1.7" fill="#e8868e"/>
<circle cx="592.00" cy="305.13" r="1.7" fill="#e8868e"/>
<circle cx="589.00" cy="314.62" r="1.7" fill="#e8868e"/>
<circle cx="592.00" cy="314.62" r="1.7" fill="#e8868e"/>
<circle cx="593.00" cy="316.85" r="1.7" fill="#e8868e"/>
<circle cx="595.00" cy="316.85" r="1.7" fill="#e8868e"/>
<circle cx="591.00" cy="316.85" r="1.7" fill="#e8868e"/>
<circle cx="596.00" cy="319.27" r="1.7" fill="#e8868e"/>
<circle cx="591.00" cy="322.99" r="1.7" fill="#e8868e"/>
<circle cx="593.00" cy="322.99" r="1.7" fill="#e8868e"/>
<circle cx="588.00" cy="325.03" r="1.7" fill="#e8868e"/>
<circle cx="591.00" cy="326.89" r="1.7" fill="#e8868e"/>
<circle cx="592.00" cy="326.89" r="1.7" fill="#e8868e"/>
<circle cx="596.00" cy="328.94" r="1.7" fill="#e8868e"/>
<circle cx="598.00" cy="328.94" r="1.7" fill="#e8868e"/>
<circle cx="597.00" cy="331.73" r="1.7" fill="#e8868e"/>
<circle cx="596.00" cy="331.73" r="1.7" fill="#e8868e"/>
<circle cx="594.00" cy="334.52" r="1.7" fill="#e8868e"/>
<circle cx="597.00" cy="338.43" r="1.7" fill="#e8868e"/>
<circle cx="587.00" cy="340.10" r="1.7" fill="#e8868e"/>
<circle cx="589.00" cy="340.10" r="1.7" fill="#e8868e"/>
<circle cx="592.00" cy="340.10" r="1.7" fill="#e8868e"/>
<circle cx="593.00" cy="340.10" r="1.7" fill="#e8868e"/>
<line x1="634.69" y1="340.10" x2="673.05" y2="340.10" stroke="#45a872" stroke-width="1.4"/>
<circle cx="646.87" cy="340.10" r="1.45" fill="#2e8f58"/>
<circle cx="652.57" cy="340.10" r="1.45" fill="#2e8f58"/>
<polyline points="529.50,225.80 529.50,211.40 655.50,211.40 655.50,225.80" fill="none" stroke="#3a3a3a" stroke-width="1"/>
<polygon points="586.90,203.80 587.46,205.23 588.99,205.32 587.80,206.29 588.19,207.78 586.90,206.95 585.61,207.78 586.00,206.29 584.81,205.32 586.34,205.23" fill="#111"/>
<polygon points="592.30,203.80 592.86,205.23 594.39,205.32 593.20,206.29 593.59,207.78 592.30,206.95 591.01,207.78 591.40,206.29 590.21,205.32 591.74,205.23" fill="#111"/>
<polygon points="597.70,203.80 598.26,205.23 599.79,205.32 598.60,206.29 598.99,207.78 597.70,206.95 596.41,207.78 596.80,206.29 595.61,205.32 597.14,205.23" fill="#111"/>
<polyline points="591.70,225.80 591.70,220.80 650.80,220.80 650.80,225.80" fill="none" stroke="#3a3a3a" stroke-width="1"/>
<polygon points="618.00,214.00 618.56,215.43 620.09,215.52 618.90,216.49 619.29,217.98 618.00,217.15 616.71,217.98 617.10,216.49 615.91,215.52 617.44,215.43" fill="#111"/>
<polygon points="623.40,214.00 623.96,215.43 625.49,215.52 624.30,216.49 624.69,217.98 623.40,217.15 622.11,217.98 622.50,216.49 621.31,215.52 622.84,215.43" fill="#111"/>
<polygon points="628.80,214.00 629.36,215.43 630.89,215.52 629.70,216.49 630.09,217.98 628.80,217.15 627.51,217.98 627.90,216.49 626.71,215.52 628.24,215.43" fill="#111"/>
<rect x="499.20" y="200.60" width="185.60" height="148.80" fill="none" stroke="#282828" stroke-width="1.5"/>
<line x1="28.50" y1="519.70" x2="31.70" y2="519.70" stroke="#282828" stroke-width="1.0"/>
<line x1="29.90" y1="512.26" x2="31.70" y2="512.26" stroke="#282828" stroke-width="1.0"/>
<line x1="28.50" y1="504.82" x2="31.70" y2="504.82" stroke="#282828" stroke-width="1.0"/>
<line x1="29.90" y1="497.38" x2="31.70" y2="497.38" stroke="#282828" stroke-width="1.0"/>
<line x1="28.50" y1="489.94" x2="31.70" y2="489.94" stroke="#282828" stroke-width="1.0"/>
<line x1="29.90" y1="482.50" x2="31.70" y2="482.50" stroke="#282828" stroke-width="1.0"/>
<line x1="28.50" y1="475.06" x2="31.70" y2="475.06" stroke="#282828" stroke-width="1.0"/>
<line x1="29.90" y1="467.62" x2="31.70" y2="467.62" stroke="#282828" stroke-width="1.0"/>
<line x1="28.50" y1="460.18" x2="31.70" y2="460.18" stroke="#282828" stroke-width="1.0"/>
<line x1="29.90" y1="452.74" x2="31.70" y2="452.74" stroke="#282828" stroke-width="1.0"/>
<line x1="28.50" y1="445.30" x2="31.70" y2="445.30" stroke="#282828" stroke-width="1.0"/>
<line x1="29.90" y1="437.86" x2="31.70" y2="437.86" stroke="#282828" stroke-width="1.0"/>
<line x1="28.50" y1="430.42" x2="31.70" y2="430.42" stroke="#282828" stroke-width="1.0"/>
<line x1="29.90" y1="422.98" x2="31.70" y2="422.98" stroke="#282828" stroke-width="1.0"/>
<line x1="28.50" y1="415.54" x2="31.70" y2="415.54" stroke="#282828" stroke-width="1.0"/>
<line x1="29.90" y1="408.10" x2="31.70" y2="408.10" stroke="#282828" stroke-width="1.0"/>
<line x1="28.50" y1="400.66" x2="31.70" y2="400.66" stroke="#282828" stroke-width="1.0"/>
<line x1="29.90" y1="393.22" x2="31.70" y2="393.22" stroke="#282828" stroke-width="1.0"/>
<line x1="28.50" y1="385.78" x2="31.70" y2="385.78" stroke="#282828" stroke-width="1.0"/>
<line x1="29.90" y1="378.34" x2="31.70" y2="378.34" stroke="#282828" stroke-width="1.0"/>
<line x1="28.50" y1="370.90" x2="31.70" y2="370.90" stroke="#282828" stroke-width="1.0"/>
<text x="26.60" y="522.50" class="tk">22</text>
<text x="26.60" y="507.62" class="tk">24</text>
<text x="26.60" y="492.74" class="tk">26</text>
<text x="26.60" y="477.86" class="tk">28</text>
<text x="26.60" y="462.98" class="tk">30</text>
<text x="26.60" y="448.10" class="tk">32</text>
<text x="26.60" y="433.22" class="tk">34</text>
<text x="26.60" y="418.34" class="tk">36</text>
<text x="26.60" y="403.46" class="tk">38</text>
<text x="26.60" y="388.58" class="tk">40</text>
<text x="26.60" y="373.70" class="tk">42</text>
<text class="ttl" transform="translate(9.00,445.30) rotate(-90)" x="0" y="0">Leg height index (%)</text>
<line x1="62.63" y1="399.54" x2="62.63" y2="439.79" stroke="#78a4d8" stroke-width="1.2"/>
<line x1="62.63" y1="468.96" x2="62.63" y2="500.80" stroke="#78a4d8" stroke-width="1.2"/>
<line x1="53.35" y1="399.54" x2="71.91" y2="399.54" stroke="#78a4d8" stroke-width="1.2"/>
<line x1="53.35" y1="500.80" x2="71.91" y2="500.80" stroke="#78a4d8" stroke-width="1.2"/>
<rect x="44.07" y="439.79" width="37.12" height="29.16" fill="none" stroke="#78a4d8" stroke-width="1.2"/>
<line x1="44.07" y1="450.88" x2="81.19" y2="450.88" stroke="#78a4d8" stroke-width="1.2"/>
<circle cx="62.58" cy="423.68" r="1.7" fill="#5e8bc4"/>
<circle cx="64.19" cy="422.29" r="1.7" fill="#5e8bc4"/>
<circle cx="57.74" cy="420.13" r="1.7" fill="#5e8bc4"/>
<circle cx="59.94" cy="419.65" r="1.7" fill="#5e8bc4"/>
<circle cx="61.02" cy="417.84" r="1.7" fill="#5e8bc4"/>
<circle cx="63.57" cy="416.74" r="1.7" fill="#5e8bc4"/>
<circle cx="65.69" cy="415.33" r="1.7" fill="#5e8bc4"/>
<circle cx="65.09" cy="414.51" r="1.7" fill="#5e8bc4"/>
<circle cx="61.96" cy="433.19" r="1.7" fill="#5e8bc4"/>
<circle cx="63.99" cy="432.23" r="1.7" fill="#5e8bc4"/>
<circle cx="59.87" cy="431.22" r="1.7" fill="#5e8bc4"/>
<circle cx="60.73" cy="430.30" r="1.7" fill="#5e8bc4"/>
<circle cx="61.11" cy="429.52" r="1.7" fill="#5e8bc4"/>
<circle cx="66.40" cy="428.38" r="1.7" fill="#5e8bc4"/>
<circle cx="64.27" cy="427.29" r="1.7" fill="#5e8bc4"/>
<circle cx="67.37" cy="426.10" r="1.7" fill="#5e8bc4"/>
<circle cx="65.03" cy="425.60" r="1.7" fill="#5e8bc4"/>
<circle cx="64.48" cy="424.16" r="1.7" fill="#5e8bc4"/>
<circle cx="64.24" cy="442.63" r="1.7" fill="#5e8bc4"/>
<circle cx="63.78" cy="441.90" r="1.7" fill="#5e8bc4"/>
<circle cx="62.47" cy="441.40" r="1.7" fill="#5e8bc4"/>
<circle cx="65.11" cy="440.34" r="1.7" fill="#5e8bc4"/>
<circle cx="60.70" cy="440.09" r="1.7" fill="#5e8bc4"/>
<circle cx="61.94" cy="439.33" r="1.7" fill="#5e8bc4"/>
<circle cx="65.41" cy="438.33" r="1.7" fill="#5e8bc4"/>
<circle cx="62.88" cy="438.10" r="1.7" fill="#5e8bc4"/>
<circle cx="63.01" cy="437.04" r="1.7" fill="#5e8bc4"/>
<circle cx="63.20" cy="436.23" r="1.7" fill="#5e8bc4"/>
<circle cx="64.07" cy="435.87" r="1.7" fill="#5e8bc4"/>
<circle cx="60.53" cy="434.86" r="1.7" fill="#5e8bc4"/>
<circle cx="63.17" cy="434.46" r="1.7" fill="#5e8bc4"/>
<circle cx="63.32" cy="433.71" r="1.7" fill="#5e8bc4"/>
<circle cx="63.88" cy="451.94" r="1.7" fill="#5e8bc4"/>
<circle cx="62.33" cy="451.29" r="1.7" fill="#5e8bc4"/>
<circle cx="61.47" cy="450.79" r="1.7" fill="#5e8bc4"/>
<circle cx="62.89" cy="450.19" r="1.7" fill="#5e8bc4"/>
<circle cx="64.05" cy="449.36" r="1.7" fill="#5e8bc4"/>
<circle cx="62.37" cy="448.72" r="1.7" fill="#5e8bc4"/>
<circle cx="64.62" cy="447.85" r="1.7" fill="#5e8bc4"/>
<circle cx="62.58" cy="447.63" r="1.7" fill="#5e8bc4"/>
<circle cx="65.88" cy="446.43" r="1.7" fill="#5e8bc4"/>
<circle cx="62.48" cy="446.35" r="1.7" fill="#5e8bc4"/>
<circle cx="58.64" cy="445.11" r="1.7" fill="#5e8bc4"/>
<circle cx="66.58" cy="444.65" r="1.7" fill="#5e8bc4"/>
<circle cx="65.37" cy="443.85" r="1.7" fill="#5e8bc4"/>
<circle cx="66.79" cy="443.58" r="1.7" fill="#5e8bc4"/>
<circle cx="65.72" cy="461.29" r="1.7" fill="#5e8bc4"/>
<circle cx="58.91" cy="460.57" r="1.7" fill="#5e8bc4"/>
<circle cx="60.40" cy="459.61" r="1.7" fill="#5e8bc4"/>
<circle cx="64.78" cy="458.52" r="1.7" fill="#5e8bc4"/>
<circle cx="63.01" cy="457.83" r="1.7" fill="#5e8bc4"/>
<circle cx="67.11" cy="456.18" r="1.7" fill="#5e8bc4"/>
<circle cx="58.89" cy="456.05" r="1.7" fill="#5e8bc4"/>
<circle cx="61.26" cy="455.12" r="1.7" fill="#5e8bc4"/>
<circle cx="65.53" cy="453.45" r="1.7" fill="#5e8bc4"/>
<circle cx="65.30" cy="452.79" r="1.7" fill="#5e8bc4"/>
<circle cx="61.99" cy="470.58" r="1.7" fill="#5e8bc4"/>
<circle cx="65.48" cy="469.43" r="1.7" fill="#5e8bc4"/>
<circle cx="61.40" cy="468.41" r="1.7" fill="#5e8bc4"/>
<circle cx="60.56" cy="467.18" r="1.7" fill="#5e8bc4"/>
<circle cx="60.72" cy="466.48" r="1.7" fill="#5e8bc4"/>
<circle cx="60.88" cy="465.01" r="1.7" fill="#5e8bc4"/>
<circle cx="63.47" cy="463.16" r="1.7" fill="#5e8bc4"/>
<circle cx="60.11" cy="462.66" r="1.7" fill="#5e8bc4"/>
<circle cx="64.00" cy="480.10" r="1.7" fill="#5e8bc4"/>
<circle cx="63.78" cy="478.24" r="1.7" fill="#5e8bc4"/>
<circle cx="60.03" cy="476.97" r="1.7" fill="#5e8bc4"/>
<circle cx="64.04" cy="475.13" r="1.7" fill="#5e8bc4"/>
<circle cx="66.61" cy="472.04" r="1.7" fill="#5e8bc4"/>
<circle cx="65.02" cy="489.61" r="1.7" fill="#5e8bc4"/>
<circle cx="65.83" cy="488.60" r="1.7" fill="#5e8bc4"/>
<circle cx="63.96" cy="487.40" r="1.7" fill="#5e8bc4"/>
<circle cx="66.30" cy="485.23" r="1.7" fill="#5e8bc4"/>
<circle cx="66.81" cy="483.78" r="1.7" fill="#5e8bc4"/>
<circle cx="63.61" cy="482.76" r="1.7" fill="#5e8bc4"/>
<circle cx="61.37" cy="481.04" r="1.7" fill="#5e8bc4"/>
<circle cx="68.51" cy="497.06" r="1.7" fill="#5e8bc4"/>
<circle cx="61.38" cy="496.10" r="1.7" fill="#5e8bc4"/>
<circle cx="63.80" cy="493.81" r="1.7" fill="#5e8bc4"/>
<circle cx="62.53" cy="493.02" r="1.7" fill="#5e8bc4"/>
<circle cx="65.94" cy="491.03" r="1.7" fill="#5e8bc4"/>
<circle cx="63.63" cy="399.17" r="1.7" fill="#5e8bc4"/>
<circle cx="65.63" cy="399.17" r="1.7" fill="#5e8bc4"/>
<circle cx="61.63" cy="405.87" r="1.7" fill="#5e8bc4"/>
<circle cx="63.63" cy="405.87" r="1.7" fill="#5e8bc4"/>
<circle cx="57.63" cy="410.33" r="1.7" fill="#5e8bc4"/>
<circle cx="70.63" cy="485.48" r="1.7" fill="#5e8bc4"/>
<circle cx="72.63" cy="485.48" r="1.7" fill="#5e8bc4"/>
<circle cx="61.63" cy="500.36" r="1.7" fill="#5e8bc4"/>
<circle cx="64.63" cy="500.36" r="1.7" fill="#5e8bc4"/>
<circle cx="64.63" cy="514.12" r="1.7" fill="#5e8bc4"/>
<line x1="124.50" y1="410.33" x2="124.50" y2="431.16" stroke="#f2a0a6" stroke-width="1.2"/>
<line x1="124.50" y1="447.90" x2="124.50" y2="468.96" stroke="#f2a0a6" stroke-width="1.2"/>
<line x1="115.22" y1="410.33" x2="133.78" y2="410.33" stroke="#f2a0a6" stroke-width="1.2"/>
<line x1="115.22" y1="468.96" x2="133.78" y2="468.96" stroke="#f2a0a6" stroke-width="1.2"/>
<rect x="105.94" y="431.16" width="37.12" height="16.74" fill="none" stroke="#f2a0a6" stroke-width="1.2"/>
<line x1="105.94" y1="440.84" x2="143.06" y2="440.84" stroke="#f2a0a6" stroke-width="1.2"/>
<circle cx="121.20" cy="399.92" r="1.7" fill="#e8868e"/>
<circle cx="123.50" cy="410.33" r="1.7" fill="#e8868e"/>
<circle cx="122.50" cy="415.54" r="1.7" fill="#e8868e"/>
<circle cx="128.00" cy="417.03" r="1.7" fill="#e8868e"/>
<circle cx="124.50" cy="422.61" r="1.7" fill="#e8868e"/>
<circle cx="125.50" cy="422.61" r="1.7" fill="#e8868e"/>
<circle cx="121.50" cy="428.19" r="1.7" fill="#e8868e"/>
<circle cx="126.50" cy="431.16" r="1.7" fill="#e8868e"/>
<circle cx="121.50" cy="436.37" r="1.7" fill="#e8868e"/>
<circle cx="125.50" cy="436.37" r="1.7" fill="#e8868e"/>
<circle cx="123.50" cy="438.60" r="1.7" fill="#e8868e"/>
<circle cx="127.50" cy="438.60" r="1.7" fill="#e8868e"/>
<circle cx="121.50" cy="440.84" r="1.7" fill="#e8868e"/>
<circle cx="124.50" cy="440.84" r="1.7" fill="#e8868e"/>
<circle cx="129.50" cy="440.84" r="1.7" fill="#e8868e"/>
<circle cx="123.50" cy="444.56" r="1.7" fill="#e8868e"/>
<circle cx="126.50" cy="444.56" r="1.7" fill="#e8868e"/>
<circle cx="128.50" cy="444.56" r="1.7" fill="#e8868e"/>
<circle cx="121.50" cy="446.79" r="1.7" fill="#e8868e"/>
<circle cx="124.50" cy="446.79" r="1.7" fill="#e8868e"/>
<circle cx="123.50" cy="449.02" r="1.7" fill="#e8868e"/>
<circle cx="125.50" cy="449.02" r="1.7" fill="#e8868e"/>
<circle cx="122.50" cy="449.02" r="1.7" fill="#e8868e"/>
<circle cx="124.50" cy="455.20" r="1.7" fill="#e8868e"/>
<circle cx="127.50" cy="459.44" r="1.7" fill="#e8868e"/>
<circle cx="119.50" cy="469.11" r="1.7" fill="#e8868e"/>
<circle cx="129.50" cy="479.52" r="1.7" fill="#e8868e"/>
<rect x="167.81" y="442.18" width="37.12" height="10.71" fill="none" stroke="#45a872" stroke-width="1.2"/>
<line x1="167.81" y1="447.16" x2="204.93" y2="447.16" stroke="#45a872" stroke-width="1.2"/>
<circle cx="184.77" cy="452.89" r="1.45" fill="#2e8f58"/>
<circle cx="186.37" cy="447.16" r="1.45" fill="#2e8f58"/>
<circle cx="179.77" cy="442.18" r="1.45" fill="#2e8f58"/>
<polyline points="61.50,397.80 61.50,382.20 188.70,382.20 188.70,397.80" fill="none" stroke="#3a3a3a" stroke-width="1"/>
<polygon points="122.30,376.60 122.86,378.03 124.39,378.12 123.20,379.09 123.59,380.58 122.30,379.75 121.01,380.58 121.40,379.09 120.21,378.12 121.74,378.03" fill="#111"/>
<polygon points="127.70,376.60 128.26,378.03 129.79,378.12 128.60,379.09 128.99,380.58 127.70,379.75 126.41,380.58 126.80,379.09 125.61,378.12 127.14,378.03" fill="#111"/>
<polyline points="124.20,397.80 124.20,392.80 183.70,392.80 183.70,397.80" fill="none" stroke="#3a3a3a" stroke-width="1"/>
<polygon points="151.65,385.90 152.21,387.33 153.74,387.42 152.55,388.39 152.94,389.88 151.65,389.05 150.36,389.88 150.75,388.39 149.56,387.42 151.09,387.33" fill="#111"/>
<polygon points="157.05,385.90 157.61,387.33 159.14,387.42 157.95,388.39 158.34,389.88 157.05,389.05 155.76,389.88 156.15,388.39 154.96,387.42 156.49,387.33" fill="#111"/>
<rect x="31.70" y="370.90" width="185.60" height="148.80" fill="none" stroke="#282828" stroke-width="1.5"/>
<line x1="261.00" y1="519.70" x2="262.80" y2="519.70" stroke="#282828" stroke-width="1.0"/>
<line x1="259.60" y1="509.07" x2="262.80" y2="509.07" stroke="#282828" stroke-width="1.0"/>
<line x1="261.00" y1="498.44" x2="262.80" y2="498.44" stroke="#282828" stroke-width="1.0"/>
<line x1="259.60" y1="487.81" x2="262.80" y2="487.81" stroke="#282828" stroke-width="1.0"/>
<line x1="261.00" y1="477.19" x2="262.80" y2="477.19" stroke="#282828" stroke-width="1.0"/>
<line x1="259.60" y1="466.56" x2="262.80" y2="466.56" stroke="#282828" stroke-width="1.0"/>
<line x1="261.00" y1="455.93" x2="262.80" y2="455.93" stroke="#282828" stroke-width="1.0"/>
<line x1="259.60" y1="445.30" x2="262.80" y2="445.30" stroke="#282828" stroke-width="1.0"/>
<line x1="261.00" y1="434.67" x2="262.80" y2="434.67" stroke="#282828" stroke-width="1.0"/>
<line x1="259.60" y1="424.04" x2="262.80" y2="424.04" stroke="#282828" stroke-width="1.0"/>
<line x1="261.00" y1="413.41" x2="262.80" y2="413.41" stroke="#282828" stroke-width="1.0"/>
<line x1="259.60" y1="402.79" x2="262.80" y2="402.79" stroke="#282828" stroke-width="1.0"/>
<line x1="261.00" y1="392.16" x2="262.80" y2="392.16" stroke="#282828" stroke-width="1.0"/>
<line x1="259.60" y1="381.53" x2="262.80" y2="381.53" stroke="#282828" stroke-width="1.0"/>
<line x1="261.00" y1="370.90" x2="262.80" y2="370.90" stroke="#282828" stroke-width="1.0"/>
<text x="257.70" y="511.87" class="tk">2</text>
<text x="257.70" y="490.61" class="tk">4</text>
<text x="257.70" y="469.36" class="tk">6</text>
<text x="257.70" y="448.10" class="tk">8</text>
<text x="257.70" y="426.84" class="tk">10</text>
<text x="257.70" y="405.59" class="tk">12</text>
<text x="257.70" y="384.33" class="tk">14</text>
<text class="ttl" transform="translate(241.50,445.30) rotate(-90)" x="0" y="0">Leg angle deviation (deg)</text>
<line x1="293.73" y1="416.60" x2="293.73" y2="460.61" stroke="#78a4d8" stroke-width="1.2"/>
<line x1="293.73" y1="491.32" x2="293.73" y2="511.62" stroke="#78a4d8" stroke-width="1.2"/>
<line x1="284.45" y1="416.60" x2="303.01" y2="416.60" stroke="#78a4d8" stroke-width="1.2"/>
<line x1="284.45" y1="511.62" x2="303.01" y2="511.62" stroke="#78a4d8" stroke-width="1.2"/>
<rect x="275.17" y="460.61" width="37.12" height="30.72" fill="none" stroke="#78a4d8" stroke-width="1.2"/>
<line x1="275.17" y1="477.40" x2="312.29" y2="477.40" stroke="#78a4d8" stroke-width="1.2"/>
<circle cx="298.69" cy="459.48" r="1.7" fill="#5e8bc4"/>
<circle cx="295.94" cy="458.51" r="1.7" fill="#5e8bc4"/>
<circle cx="296.44" cy="457.83" r="1.7" fill="#5e8bc4"/>
<circle cx="293.78" cy="457.65" r="1.7" fill="#5e8bc4"/>
<circle cx="297.11" cy="456.95" r="1.7" fill="#5e8bc4"/>
<circle cx="294.67" cy="456.50" r="1.7" fill="#5e8bc4"/>
<circle cx="295.44" cy="455.32" r="1.7" fill="#5e8bc4"/>
<circle cx="295.28" cy="454.85" r="1.7" fill="#5e8bc4"/>
<circle cx="293.07" cy="469.25" r="1.7" fill="#5e8bc4"/>
<circle cx="290.40" cy="468.90" r="1.7" fill="#5e8bc4"/>
<circle cx="293.32" cy="467.61" r="1.7" fill="#5e8bc4"/>
<circle cx="290.81" cy="466.03" r="1.7" fill="#5e8bc4"/>
<circle cx="292.87" cy="464.98" r="1.7" fill="#5e8bc4"/>
<circle cx="297.70" cy="464.75" r="1.7" fill="#5e8bc4"/>
<circle cx="293.87" cy="463.40" r="1.7" fill="#5e8bc4"/>
<circle cx="293.30" cy="461.94" r="1.7" fill="#5e8bc4"/>
<circle cx="301.73" cy="461.13" r="1.7" fill="#5e8bc4"/>
<circle cx="294.29" cy="460.31" r="1.7" fill="#5e8bc4"/>
<circle cx="291.24" cy="480.24" r="1.7" fill="#5e8bc4"/>
<circle cx="298.63" cy="479.09" r="1.7" fill="#5e8bc4"/>
<circle cx="295.47" cy="478.71" r="1.7" fill="#5e8bc4"/>
<circle cx="297.47" cy="477.69" r="1.7" fill="#5e8bc4"/>
<circle cx="293.69" cy="476.94" r="1.7" fill="#5e8bc4"/>
<circle cx="294.72" cy="476.46" r="1.7" fill="#5e8bc4"/>
<circle cx="294.04" cy="475.85" r="1.7" fill="#5e8bc4"/>
<circle cx="291.19" cy="474.77" r="1.7" fill="#5e8bc4"/>
<circle cx="295.32" cy="473.82" r="1.7" fill="#5e8bc4"/>
<circle cx="294.57" cy="473.65" r="1.7" fill="#5e8bc4"/>
<circle cx="297.78" cy="472.99" r="1.7" fill="#5e8bc4"/>
<circle cx="293.28" cy="472.27" r="1.7" fill="#5e8bc4"/>
<circle cx="295.01" cy="471.27" r="1.7" fill="#5e8bc4"/>
<circle cx="291.03" cy="470.64" r="1.7" fill="#5e8bc4"/>
<circle cx="292.29" cy="490.55" r="1.7" fill="#5e8bc4"/>
<circle cx="292.65" cy="489.64" r="1.7" fill="#5e8bc4"/>
<circle cx="294.25" cy="488.79" r="1.7" fill="#5e8bc4"/>
<circle cx="294.72" cy="488.59" r="1.7" fill="#5e8bc4"/>
<circle cx="294.97" cy="487.70" r="1.7" fill="#5e8bc4"/>
<circle cx="294.56" cy="486.90" r="1.7" fill="#5e8bc4"/>
<circle cx="291.45" cy="486.65" r="1.7" fill="#5e8bc4"/>
<circle cx="291.98" cy="486.17" r="1.7" fill="#5e8bc4"/>
<circle cx="291.39" cy="485.30" r="1.7" fill="#5e8bc4"/>
<circle cx="288.29" cy="484.47" r="1.7" fill="#5e8bc4"/>
<circle cx="296.15" cy="483.77" r="1.7" fill="#5e8bc4"/>
<circle cx="294.67" cy="483.44" r="1.7" fill="#5e8bc4"/>
<circle cx="293.59" cy="482.61" r="1.7" fill="#5e8bc4"/>
<circle cx="294.10" cy="482.05" r="1.7" fill="#5e8bc4"/>
<circle cx="294.93" cy="481.16" r="1.7" fill="#5e8bc4"/>
<circle cx="288.16" cy="481.01" r="1.7" fill="#5e8bc4"/>
<circle cx="292.09" cy="500.89" r="1.7" fill="#5e8bc4"/>
<circle cx="291.63" cy="500.11" r="1.7" fill="#5e8bc4"/>
<circle cx="292.09" cy="499.05" r="1.7" fill="#5e8bc4"/>
<circle cx="295.05" cy="498.19" r="1.7" fill="#5e8bc4"/>
<circle cx="296.02" cy="497.83" r="1.7" fill="#5e8bc4"/>
<circle cx="297.52" cy="497.28" r="1.7" fill="#5e8bc4"/>
<circle cx="291.12" cy="496.05" r="1.7" fill="#5e8bc4"/>
<circle cx="296.44" cy="495.83" r="1.7" fill="#5e8bc4"/>
<circle cx="290.47" cy="494.76" r="1.7" fill="#5e8bc4"/>
<circle cx="292.25" cy="493.82" r="1.7" fill="#5e8bc4"/>
<circle cx="294.58" cy="493.55" r="1.7" fill="#5e8bc4"/>
<circle cx="296.31" cy="492.72" r="1.7" fill="#5e8bc4"/>
<circle cx="294.60" cy="491.60" r="1.7" fill="#5e8bc4"/>
<circle cx="296.35" cy="490.91" r="1.7" fill="#5e8bc4"/>
<circle cx="290.65" cy="508.49" r="1.7" fill="#5e8bc4"/>
<circle cx="289.82" cy="507.25" r="1.7" fill="#5e8bc4"/>
<circle cx="295.83" cy="506.31" r="1.7" fill="#5e8bc4"/>
<circle cx="289.81" cy="505.59" r="1.7" fill="#5e8bc4"/>
<circle cx="288.79" cy="504.66" r="1.7" fill="#5e8bc4"/>
<circle cx="296.04" cy="503.05" r="1.7" fill="#5e8bc4"/>
<circle cx="294.23" cy="502.70" r="1.7" fill="#5e8bc4"/>
<circle cx="298.08" cy="501.24" r="1.7" fill="#5e8bc4"/>
<circle cx="286.73" cy="391.52" r="1.7" fill="#5e8bc4"/>
<circle cx="289.73" cy="393.22" r="1.7" fill="#5e8bc4"/>
<circle cx="298.73" cy="393.96" r="1.7" fill="#5e8bc4"/>
<circle cx="298.73" cy="412.03" r="1.7" fill="#5e8bc4"/>
<circle cx="292.73" cy="417.24" r="1.7" fill="#5e8bc4"/>
<circle cx="294.73" cy="417.24" r="1.7" fill="#5e8bc4"/>
<circle cx="290.73" cy="431.48" r="1.7" fill="#5e8bc4"/>
<circle cx="293.73" cy="433.93" r="1.7" fill="#5e8bc4"/>
<circle cx="292.73" cy="433.93" r="1.7" fill="#5e8bc4"/>
<circle cx="292.73" cy="442.96" r="1.7" fill="#5e8bc4"/>
<circle cx="297.73" cy="446.36" r="1.7" fill="#5e8bc4"/>
<circle cx="299.73" cy="446.36" r="1.7" fill="#5e8bc4"/>
<circle cx="295.73" cy="448.17" r="1.7" fill="#5e8bc4"/>
<circle cx="292.73" cy="511.41" r="1.7" fill="#5e8bc4"/>
<circle cx="295.73" cy="511.41" r="1.7" fill="#5e8bc4"/>
<line x1="355.60" y1="457.10" x2="355.60" y2="474.32" stroke="#f2a0a6" stroke-width="1.2"/>
<line x1="355.60" y1="494.19" x2="355.60" y2="511.62" stroke="#f2a0a6" stroke-width="1.2"/>
<line x1="346.32" y1="457.10" x2="364.88" y2="457.10" stroke="#f2a0a6" stroke-width="1.2"/>
<line x1="346.32" y1="511.62" x2="364.88" y2="511.62" stroke="#f2a0a6" stroke-width="1.2"/>
<rect x="337.04" y="474.32" width="37.12" height="19.88" fill="none" stroke="#f2a0a6" stroke-width="1.2"/>
<line x1="337.04" y1="486.96" x2="374.16" y2="486.96" stroke="#f2a0a6" stroke-width="1.2"/>
<circle cx="359.90" cy="431.27" r="1.7" fill="#e8868e"/>
<circle cx="353.80" cy="443.17" r="1.7" fill="#e8868e"/>
<circle cx="352.60" cy="456.99" r="1.7" fill="#e8868e"/>
<circle cx="355.60" cy="463.69" r="1.7" fill="#e8868e"/>
<circle cx="357.60" cy="463.69" r="1.7" fill="#e8868e"/>
<circle cx="353.60" cy="474.21" r="1.7" fill="#e8868e"/>
<circle cx="360.60" cy="474.21" r="1.7" fill="#e8868e"/>
<circle cx="354.10" cy="478.04" r="1.7" fill="#e8868e"/>
<circle cx="353.60" cy="482.82" r="1.7" fill="#e8868e"/>
<circle cx="350.60" cy="485.69" r="1.7" fill="#e8868e"/>
<circle cx="355.60" cy="485.69" r="1.7" fill="#e8868e"/>
<circle cx="358.60" cy="485.69" r="1.7" fill="#e8868e"/>
<circle cx="353.60" cy="488.35" r="1.7" fill="#e8868e"/>
<circle cx="357.60" cy="488.35" r="1.7" fill="#e8868e"/>
<circle cx="363.60" cy="488.35" r="1.7" fill="#e8868e"/>
<circle cx="352.60" cy="491.00" r="1.7" fill="#e8868e"/>
<circle cx="355.60" cy="491.00" r="1.7" fill="#e8868e"/>
<circle cx="357.60" cy="493.13" r="1.7" fill="#e8868e"/>
<circle cx="360.60" cy="493.13" r="1.7" fill="#e8868e"/>
<circle cx="353.60" cy="500.04" r="1.7" fill="#e8868e"/>
<circle cx="359.60" cy="500.04" r="1.7" fill="#e8868e"/>
<circle cx="361.60" cy="504.82" r="1.7" fill="#e8868e"/>
<circle cx="354.60" cy="506.73" r="1.7" fill="#e8868e"/>
<circle cx="353.60" cy="511.41" r="1.7" fill="#e8868e"/>
<circle cx="358.60" cy="511.41" r="1.7" fill="#e8868e"/>
<rect x="398.91" y="464.33" width="37.12" height="14.77" fill="none" stroke="#45a872" stroke-width="1.2"/>
<line x1="398.91" y1="471.45" x2="436.03" y2="471.45" stroke="#45a872" stroke-width="1.2"/>
<circle cx="410.87" cy="479.10" r="1.45" fill="#2e8f58"/>
<circle cx="417.47" cy="471.45" r="1.45" fill="#2e8f58"/>
<circle cx="415.97" cy="464.33" r="1.45" fill="#2e8f58"/>
<polyline points="293.10,396.80 293.10,382.00 419.70,382.00 419.70,396.80" fill="none" stroke="#3a3a3a" stroke-width="1"/>
<polygon points="355.50,375.40 356.06,376.83 357.59,376.92 356.40,377.89 356.79,379.38 355.50,378.55 354.21,379.38 354.60,377.89 353.41,376.92 354.94,376.83" fill="#111"/>
<polyline points="355.50,396.80 355.50,391.40 414.90,391.40 414.90,396.80" fill="none" stroke="#3a3a3a" stroke-width="1"/>
<polygon points="378.30,384.70 378.86,386.13 380.39,386.22 379.20,387.19 379.59,388.68 378.30,387.85 377.01,388.68 377.40,387.19 376.21,386.22 377.74,386.13" fill="#111"/>
<polygon points="383.70,384.70 384.26,386.13 385.79,386.22 384.60,387.19 384.99,388.68 383.70,387.85 382.41,388.68 382.80,387.19 381.61,386.22 383.14,386.13" fill="#111"/>
<polygon points="389.10,384.70 389.66,386.13 391.19,386.22 390.00,387.19 390.39,388.68 389.10,387.85 387.81,388.68 388.20,387.19 387.01,386.22 388.54,386.13" fill="#111"/>
<rect x="262.80" y="370.90" width="185.60" height="148.80" fill="none" stroke="#282828" stroke-width="1.5"/>
<line x1="496.00" y1="519.70" x2="499.20" y2="519.70" stroke="#282828" stroke-width="1.0"/>
<line x1="497.40" y1="510.40" x2="499.20" y2="510.40" stroke="#282828" stroke-width="1.0"/>
<line x1="496.00" y1="501.10" x2="499.20" y2="501.10" stroke="#282828" stroke-width="1.0"/>
<line x1="497.40" y1="491.80" x2="499.20" y2="491.80" stroke="#282828" stroke-width="1.0"/>
<line x1="496.00" y1="482.50" x2="499.20" y2="482.50" stroke="#282828" stroke-width="1.0"/>
<line x1="497.40" y1="473.20" x2="499.20" y2="473.20" stroke="#282828" stroke-width="1.0"/>
<line x1="496.00" y1="463.90" x2="499.20" y2="463.90" stroke="#282828" stroke-width="1.0"/>
<line x1="497.40" y1="454.60" x2="499.20" y2="454.60" stroke="#282828" stroke-width="1.0"/>
<line x1="496.00" y1="445.30" x2="499.20" y2="445.30" stroke="#282828" stroke-width="1.0"/>
<line x1="497.40" y1="436.00" x2="499.20" y2="436.00" stroke="#282828" stroke-width="1.0"/>
<line x1="496.00" y1="426.70" x2="499.20" y2="426.70" stroke="#282828" stroke-width="1.0"/>
<line x1="497.40" y1="417.40" x2="499.20" y2="417.40" stroke="#282828" stroke-width="1.0"/>
<line x1="496.00" y1="408.10" x2="499.20" y2="408.10" stroke="#282828" stroke-width="1.0"/>
<line x1="497.40" y1="398.80" x2="499.20" y2="398.80" stroke="#282828" stroke-width="1.0"/>
<line x1="496.00" y1="389.50" x2="499.20" y2="389.50" stroke="#282828" stroke-width="1.0"/>
<line x1="497.40" y1="380.20" x2="499.20" y2="380.20" stroke="#282828" stroke-width="1.0"/>
<line x1="496.00" y1="370.90" x2="499.20" y2="370.90" stroke="#282828" stroke-width="1.0"/>
<text x="494.10" y="522.50" class="tk">65</text>
<text x="494.10" y="503.90" class="tk">70</text>
<text x="494.10" y="485.30" class="tk">75</text>
<text x="494.10" y="466.70" class="tk">80</text>
<text x="494.10" y="448.10" class="tk">85</text>
<text x="494.10" y="429.50" class="tk">90</text>
<text x="494.10" y="410.90" class="tk">95</text>
<text x="494.10" y="392.30" class="tk">100</text>
<text x="494.10" y="373.70" class="tk">105</text>
<text class="ttl" transform="translate(477.00,445.30) rotate(-90)" x="0" y="0">Total score</text>
<line x1="530.13" y1="392.48" x2="530.13" y2="414.42" stroke="#78a4d8" stroke-width="1.2"/>
<line x1="530.13" y1="446.60" x2="530.13" y2="491.80" stroke="#78a4d8" stroke-width="1.2"/>
<line x1="520.85" y1="392.48" x2="539.41" y2="392.48" stroke="#78a4d8" stroke-width="1.2"/>
<line x1="520.85" y1="491.80" x2="539.41" y2="491.80" stroke="#78a4d8" stroke-width="1.2"/>
<rect x="511.57" y="414.42" width="37.12" height="32.18" fill="none" stroke="#78a4d8" stroke-width="1.2"/>
<line x1="511.57" y1="426.33" x2="548.69" y2="426.33" stroke="#78a4d8" stroke-width="1.2"/>
<circle cx="528.97" cy="404.43" r="1.7" fill="#5e8bc4"/>
<circle cx="529.52" cy="402.90" r="1.7" fill="#5e8bc4"/>
<circle cx="532.13" cy="401.89" r="1.7" fill="#5e8bc4"/>
<circle cx="529.08" cy="401.17" r="1.7" fill="#5e8bc4"/>
<circle cx="526.83" cy="399.84" r="1.7" fill="#5e8bc4"/>
<circle cx="532.58" cy="399.36" r="1.7" fill="#5e8bc4"/>
<circle cx="527.03" cy="397.99" r="1.7" fill="#5e8bc4"/>
<circle cx="529.90" cy="397.42" r="1.7" fill="#5e8bc4"/>
<circle cx="527.10" cy="396.56" r="1.7" fill="#5e8bc4"/>
<circle cx="529.68" cy="395.67" r="1.7" fill="#5e8bc4"/>
<circle cx="529.70" cy="414.14" r="1.7" fill="#5e8bc4"/>
<circle cx="531.65" cy="413.97" r="1.7" fill="#5e8bc4"/>
<circle cx="530.64" cy="412.69" r="1.7" fill="#5e8bc4"/>
<circle cx="530.83" cy="412.40" r="1.7" fill="#5e8bc4"/>
<circle cx="530.92" cy="411.90" r="1.7" fill="#5e8bc4"/>
<circle cx="527.76" cy="410.71" r="1.7" fill="#5e8bc4"/>
<circle cx="527.44" cy="409.96" r="1.7" fill="#5e8bc4"/>
<circle cx="528.35" cy="409.73" r="1.7" fill="#5e8bc4"/>
<circle cx="529.10" cy="408.47" r="1.7" fill="#5e8bc4"/>
<circle cx="531.18" cy="407.75" r="1.7" fill="#5e8bc4"/>
<circle cx="529.83" cy="407.00" r="1.7" fill="#5e8bc4"/>
<circle cx="531.60" cy="406.25" r="1.7" fill="#5e8bc4"/>
<circle cx="530.01" cy="406.04" r="1.7" fill="#5e8bc4"/>
<circle cx="535.36" cy="405.39" r="1.7" fill="#5e8bc4"/>
<circle cx="531.52" cy="424.16" r="1.7" fill="#5e8bc4"/>
<circle cx="532.10" cy="423.47" r="1.7" fill="#5e8bc4"/>
<circle cx="527.16" cy="422.93" r="1.7" fill="#5e8bc4"/>
<circle cx="534.01" cy="422.25" r="1.7" fill="#5e8bc4"/>
<circle cx="532.96" cy="421.32" r="1.7" fill="#5e8bc4"/>
<circle cx="529.96" cy="420.39" r="1.7" fill="#5e8bc4"/>
<circle cx="530.68" cy="419.60" r="1.7" fill="#5e8bc4"/>
<circle cx="529.90" cy="418.74" r="1.7" fill="#5e8bc4"/>
<circle cx="528.00" cy="417.88" r="1.7" fill="#5e8bc4"/>
<circle cx="525.36" cy="416.50" r="1.7" fill="#5e8bc4"/>
<circle cx="530.31" cy="415.95" r="1.7" fill="#5e8bc4"/>
<circle cx="528.06" cy="415.61" r="1.7" fill="#5e8bc4"/>
<circle cx="531.88" cy="433.89" r="1.7" fill="#5e8bc4"/>
<circle cx="529.53" cy="433.43" r="1.7" fill="#5e8bc4"/>
<circle cx="527.33" cy="432.73" r="1.7" fill="#5e8bc4"/>
<circle cx="534.48" cy="431.40" r="1.7" fill="#5e8bc4"/>
<circle cx="533.04" cy="431.15" r="1.7" fill="#5e8bc4"/>
<circle cx="531.74" cy="430.48" r="1.7" fill="#5e8bc4"/>
<circle cx="534.64" cy="428.89" r="1.7" fill="#5e8bc4"/>
<circle cx="527.41" cy="428.87" r="1.7" fill="#5e8bc4"/>
<circle cx="530.61" cy="427.42" r="1.7" fill="#5e8bc4"/>
<circle cx="528.03" cy="427.11" r="1.7" fill="#5e8bc4"/>
<circle cx="530.52" cy="425.78" r="1.7" fill="#5e8bc4"/>
<circle cx="532.43" cy="425.44" r="1.7" fill="#5e8bc4"/>
<circle cx="529.70" cy="444.29" r="1.7" fill="#5e8bc4"/>
<circle cx="529.18" cy="442.42" r="1.7" fill="#5e8bc4"/>
<circle cx="530.45" cy="441.25" r="1.7" fill="#5e8bc4"/>
<circle cx="531.38" cy="440.69" r="1.7" fill="#5e8bc4"/>
<circle cx="526.53" cy="438.55" r="1.7" fill="#5e8bc4"/>
<circle cx="528.81" cy="437.49" r="1.7" fill="#5e8bc4"/>
<circle cx="532.51" cy="436.53" r="1.7" fill="#5e8bc4"/>
<circle cx="535.10" cy="434.65" r="1.7" fill="#5e8bc4"/>
<circle cx="533.24" cy="454.57" r="1.7" fill="#5e8bc4"/>
<circle cx="529.97" cy="453.39" r="1.7" fill="#5e8bc4"/>
<circle cx="536.01" cy="452.09" r="1.7" fill="#5e8bc4"/>
<circle cx="531.85" cy="451.21" r="1.7" fill="#5e8bc4"/>
<circle cx="529.17" cy="450.12" r="1.7" fill="#5e8bc4"/>
<circle cx="530.56" cy="449.04" r="1.7" fill="#5e8bc4"/>
<circle cx="526.09" cy="447.92" r="1.7" fill="#5e8bc4"/>
<circle cx="529.73" cy="447.22" r="1.7" fill="#5e8bc4"/>
<circle cx="531.77" cy="445.72" r="1.7" fill="#5e8bc4"/>
<circle cx="530.35" cy="444.90" r="1.7" fill="#5e8bc4"/>
<circle cx="528.85" cy="463.21" r="1.7" fill="#5e8bc4"/>
<circle cx="529.25" cy="459.98" r="1.7" fill="#5e8bc4"/>
<circle cx="529.79" cy="458.32" r="1.7" fill="#5e8bc4"/>
<circle cx="530.56" cy="454.88" r="1.7" fill="#5e8bc4"/>
<circle cx="532.12" cy="473.56" r="1.7" fill="#5e8bc4"/>
<circle cx="531.27" cy="470.04" r="1.7" fill="#5e8bc4"/>
<circle cx="529.18" cy="468.90" r="1.7" fill="#5e8bc4"/>
<circle cx="528.97" cy="466.16" r="1.7" fill="#5e8bc4"/>
<circle cx="533.23" cy="483.96" r="1.7" fill="#5e8bc4"/>
<circle cx="533.07" cy="481.03" r="1.7" fill="#5e8bc4"/>
<circle cx="536.99" cy="477.51" r="1.7" fill="#5e8bc4"/>
<circle cx="531.60" cy="476.57" r="1.7" fill="#5e8bc4"/>
<circle cx="530.15" cy="489.17" r="1.7" fill="#5e8bc4"/>
<circle cx="531.61" cy="484.41" r="1.7" fill="#5e8bc4"/>
<circle cx="528.13" cy="392.48" r="1.7" fill="#5e8bc4"/>
<circle cx="530.13" cy="392.48" r="1.7" fill="#5e8bc4"/>
<circle cx="532.13" cy="392.48" r="1.7" fill="#5e8bc4"/>
<circle cx="536.13" cy="471.34" r="1.7" fill="#5e8bc4"/>
<circle cx="540.13" cy="471.34" r="1.7" fill="#5e8bc4"/>
<circle cx="526.13" cy="491.80" r="1.7" fill="#5e8bc4"/>
<circle cx="530.13" cy="491.80" r="1.7" fill="#5e8bc4"/>
<circle cx="535.13" cy="491.80" r="1.7" fill="#5e8bc4"/>
<circle cx="524.13" cy="499.24" r="1.7" fill="#5e8bc4"/>
<circle cx="532.13" cy="508.91" r="1.7" fill="#5e8bc4"/>
<line x1="592.00" y1="392.48" x2="592.00" y2="401.40" stroke="#f2a0a6" stroke-width="1.2"/>
<line x1="592.00" y1="415.35" x2="592.00" y2="420.38" stroke="#f2a0a6" stroke-width="1.2"/>
<line x1="582.72" y1="392.48" x2="601.28" y2="392.48" stroke="#f2a0a6" stroke-width="1.2"/>
<line x1="582.72" y1="420.38" x2="601.28" y2="420.38" stroke="#f2a0a6" stroke-width="1.2"/>
<rect x="573.44" y="401.40" width="37.12" height="13.95" fill="none" stroke="#f2a0a6" stroke-width="1.2"/>
<line x1="573.44" y1="408.10" x2="610.56" y2="408.10" stroke="#f2a0a6" stroke-width="1.2"/>
<circle cx="590.00" cy="392.85" r="1.7" fill="#e8868e"/>
<circle cx="592.00" cy="392.85" r="1.7" fill="#e8868e"/>
<circle cx="591.00" cy="394.71" r="1.7" fill="#e8868e"/>
<circle cx="593.00" cy="394.71" r="1.7" fill="#e8868e"/>
<circle cx="592.00" cy="396.20" r="1.7" fill="#e8868e"/>
<circle cx="593.00" cy="398.43" r="1.7" fill="#e8868e"/>
<circle cx="595.00" cy="398.43" r="1.7" fill="#e8868e"/>
<circle cx="592.00" cy="400.29" r="1.7" fill="#e8868e"/>
<circle cx="589.00" cy="403.26" r="1.7" fill="#e8868e"/>
<circle cx="594.00" cy="403.26" r="1.7" fill="#e8868e"/>
<circle cx="592.00" cy="405.12" r="1.7" fill="#e8868e"/>
<circle cx="598.00" cy="405.12" r="1.7" fill="#e8868e"/>
<circle cx="590.00" cy="407.36" r="1.7" fill="#e8868e"/>
<circle cx="592.00" cy="407.36" r="1.7" fill="#e8868e"/>
<circle cx="594.00" cy="407.36" r="1.7" fill="#e8868e"/>
<circle cx="591.00" cy="409.22" r="1.7" fill="#e8868e"/>
<circle cx="593.00" cy="409.22" r="1.7" fill="#e8868e"/>
<circle cx="588.00" cy="411.08" r="1.7" fill="#e8868e"/>
<circle cx="594.00" cy="411.08" r="1.7" fill="#e8868e"/>
<circle cx="592.00" cy="412.94" r="1.7" fill="#e8868e"/>
<circle cx="596.00" cy="412.94" r="1.7" fill="#e8868e"/>
<circle cx="589.00" cy="415.17" r="1.7" fill="#e8868e"/>
<circle cx="593.00" cy="415.17" r="1.7" fill="#e8868e"/>
<circle cx="594.00" cy="416.28" r="1.7" fill="#e8868e"/>
<circle cx="596.00" cy="416.28" r="1.7" fill="#e8868e"/>
<circle cx="591.00" cy="417.77" r="1.7" fill="#e8868e"/>
<circle cx="592.00" cy="418.89" r="1.7" fill="#e8868e"/>
<circle cx="595.00" cy="418.89" r="1.7" fill="#e8868e"/>
<rect x="635.31" y="428.19" width="37.12" height="9.67" fill="none" stroke="#45a872" stroke-width="1.2"/>
<line x1="635.31" y1="432.65" x2="672.43" y2="432.65" stroke="#45a872" stroke-width="1.2"/>
<circle cx="652.17" cy="437.86" r="1.45" fill="#2e8f58"/>
<circle cx="653.87" cy="432.65" r="1.45" fill="#2e8f58"/>
<circle cx="647.27" cy="428.19" r="1.45" fill="#2e8f58"/>
<polyline points="592.20,390.90 592.20,385.40 651.40,385.40 651.40,390.90" fill="none" stroke="#3a3a3a" stroke-width="1"/>
<polygon points="615.20,378.50 615.76,379.93 617.29,380.02 616.10,380.99 616.49,382.48 615.20,381.65 613.91,382.48 614.30,380.99 613.11,380.02 614.64,379.93" fill="#111"/>
<polygon points="620.60,378.50 621.16,379.93 622.69,380.02 621.50,380.99 621.89,382.48 620.60,381.65 619.31,382.48 619.70,380.99 618.51,380.02 620.04,379.93" fill="#111"/>
<polygon points="626.00,378.50 626.56,379.93 628.09,380.02 626.90,380.99 627.29,382.48 626.00,381.65 624.71,382.48 625.10,380.99 623.91,380.02 625.44,379.93" fill="#111"/>
<rect x="499.20" y="370.90" width="185.60" height="148.80" fill="none" stroke="#282828" stroke-width="1.5"/>
<rect x="237.8" y="0.3" width="445.2" height="17.9" fill="#fff" stroke="#333" stroke-width="1.2"/>
<rect x="239.7" y="2.3" width="29.3" height="14.3" fill="#fff" stroke="#8aaedb" stroke-width="1.3"/>
<text x="272.3" y="13.9" class="lg" style="font-size:12.95px">international teams</text>
<rect x="389.6" y="2.3" width="29.0" height="14.3" fill="#fff" stroke="#f0a4aa" stroke-width="1.3"/>
<text x="422.3" y="13.9" class="lg" style="font-size:12.95px">international teams (top5)</text>
<rect x="577.3" y="2.1" width="29.4" height="15.0" fill="#fff" stroke="#6dbb8c" stroke-width="1.3"/>
<text x="609.8" y="13.9" class="lg">Beijing team</text>
</svg>
</body></html>
